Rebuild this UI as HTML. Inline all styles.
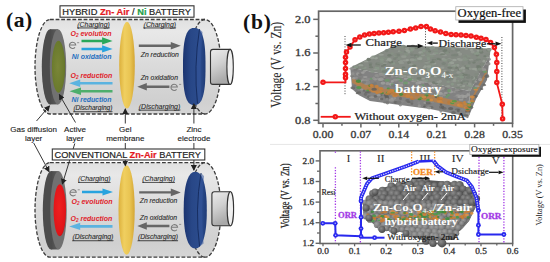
<!DOCTYPE html>
<html><head><meta charset="utf-8"><style>
html,body{margin:0;padding:0;background:#fff;width:550px;height:262px;overflow:hidden}
svg{display:block}
.s{font-family:"Liberation Sans",sans-serif}
.r{font-family:"Liberation Serif",serif}
</style></head><body>
<svg width="550" height="262" viewBox="0 0 550 262">
<defs>
  <linearGradient id="body" x1="0" y1="0" x2="0" y2="1">
    <stop offset="0" stop-color="#e0e0e0"/><stop offset="0.13" stop-color="#e8e8e8"/><stop offset="0.5" stop-color="#dadada"/><stop offset="0.85" stop-color="#d0d0d0"/><stop offset="1" stop-color="#d5d5d5"/>
  </linearGradient>
  <linearGradient id="term" x1="0" y1="0" x2="0.3" y2="1">
    <stop offset="0" stop-color="#ececec"/><stop offset="0.5" stop-color="#d0d0d0"/><stop offset="1" stop-color="#a8a8a8"/>
  </linearGradient>
  <linearGradient id="gel" x1="0" y1="0" x2="1" y2="0">
    <stop offset="0" stop-color="#dcb03c"/><stop offset="0.35" stop-color="#f0cf60"/><stop offset="0.7" stop-color="#e9c452"/><stop offset="1" stop-color="#d4a634"/>
  </linearGradient>
  <linearGradient id="zn" x1="0" y1="0" x2="1" y2="0">
    <stop offset="0" stop-color="#1b3470"/><stop offset="0.35" stop-color="#284787"/><stop offset="0.75" stop-color="#2c4d8e"/><stop offset="1" stop-color="#1f3b76"/>
  </linearGradient>
  <linearGradient id="gdl" x1="0" y1="0" x2="1" y2="0">
    <stop offset="0" stop-color="#4a4a4a"/><stop offset="1" stop-color="#5e5e5e"/>
  </linearGradient>
  <radialGradient id="olive" cx="0.45" cy="0.5" r="0.6">
    <stop offset="0" stop-color="#7a8638"/><stop offset="0.8" stop-color="#6a7a2c"/><stop offset="1" stop-color="#5a6a24"/>
  </radialGradient>
  <radialGradient id="redg" cx="0.45" cy="0.45" r="0.6">
    <stop offset="0" stop-color="#f02020"/><stop offset="0.85" stop-color="#e01418"/><stop offset="1" stop-color="#b81014"/>
  </radialGradient>
  <g id="shell">
    <path d="M50,19.5 L205,19.5 A16,47.25 0 0 1 205,114 L50,114 A15,47.25 0 0 1 50,19.5 Z" fill="url(#body)"/>
    <path d="M50,19.5 L205,19.5 A16,47.25 0 0 1 205,114 L50,114 A15,47.25 0 0 1 50,19.5 Z" fill="none" stroke="#3c3c3c" stroke-width="1.3" stroke-dasharray="3.8 1.8"/>
    <path d="M205,19.5 A16,47.25 0 0 0 205,114" fill="none" stroke="#3c3c3c" stroke-width="1.3" stroke-dasharray="3.8 1.8"/>
  </g>
  <marker id="ah" markerWidth="6" markerHeight="6" refX="5" refY="3" orient="auto" markerUnits="userSpaceOnUse">
    <path d="M0,0 L6,3 L0,6 Z" fill="#222"/>
  </marker>
</defs>
<text x="6" y="27" class="r" font-size="21.5" font-weight="bold" fill="#111" letter-spacing="0.6">(a)</text>
<use href="#shell"/>
<ellipse cx="50" cy="66.8" rx="8.2" ry="37.6" fill="#4c4c4c"/><rect x="50" y="29.2" width="8" height="75.2" fill="url(#gdl)"/><ellipse cx="58" cy="66.8" rx="8.2" ry="37.6" fill="#717171"/><ellipse cx="58.5" cy="66.8" rx="6.6" ry="26" fill="url(#olive)"/>
<ellipse cx="127" cy="65.2" rx="7.8" ry="43.4" fill="url(#gel)"/>
<path d="M205.50,66.50 L205.47,72.82 L205.37,77.03 L205.21,80.65 L204.99,83.89 L204.71,86.84 L204.36,89.54 L203.95,92.01 L203.48,94.25 L202.95,96.28 L202.36,98.10 L201.70,99.71 L200.98,101.11 L200.19,102.29 L199.33,103.27 L198.38,104.02 L197.33,104.57 L196.10,104.89 L194.25,105.00 L192.40,104.89 L191.17,104.57 L190.12,104.02 L189.17,103.27 L188.31,102.29 L187.52,101.11 L186.80,99.71 L186.14,98.10 L185.55,96.28 L185.02,94.25 L184.55,92.01 L184.14,89.54 L183.79,86.84 L183.51,83.89 L183.29,80.65 L183.13,77.03 L183.03,72.82 L183.00,66.50 L183.03,60.18 L183.13,55.97 L183.29,52.35 L183.51,49.11 L183.79,46.16 L184.14,43.46 L184.55,40.99 L185.02,38.75 L185.55,36.72 L186.14,34.90 L186.80,33.29 L187.52,31.89 L188.31,30.71 L189.17,29.73 L190.12,28.98 L191.17,28.43 L192.40,28.11 L194.25,28.00 L196.10,28.11 L197.33,28.43 L198.38,28.98 L199.33,29.73 L200.19,30.71 L200.98,31.89 L201.70,33.29 L202.36,34.90 L202.95,36.72 L203.48,38.75 L203.95,40.99 L204.36,43.46 L204.71,46.16 L204.99,49.11 L205.21,52.35 L205.37,55.97 L205.47,60.18 Z" fill="url(#zn)"/><path d="M199.5,29 Q193.5,67 197.5,103.5 L201.5,100.5 Q199.5,67 202.5,32 Z" fill="#35569a" opacity="0.55"/><path d="M199.5,29 Q193.5,67 197.5,103.5" fill="none" stroke="#142a5c" stroke-width="1" opacity="0.9"/>
<path d="M213,49.4 L230.1,49.4 L230.1,84.4 L213,84.4 Q210.5,84.4 210.5,81.9 L210.5,51.9 Q210.5,49.4 213,49.4 Z" fill="url(#term)" stroke="#333" stroke-width="1.1"/><ellipse cx="230.1" cy="66.9" rx="3.2" ry="17.5" fill="#f0f0f0" stroke="#333" stroke-width="1.1"/>
<g class="s" font-style="italic" font-size="7" fill="#2e2e2e" stroke="#2e2e2e" stroke-width="0.12"><text x="77.3" y="26.6" text-decoration="underline" textLength="32.5" lengthAdjust="spacingAndGlyphs">(Charging)</text><text x="143.6" y="26.6" text-decoration="underline" textLength="32.4" lengthAdjust="spacingAndGlyphs">(Charging)</text><text x="73.4" y="110.4" text-decoration="underline" textLength="39" lengthAdjust="spacingAndGlyphs">(Discharging)</text><text x="138.8" y="108.8" text-decoration="underline" textLength="41.5" lengthAdjust="spacingAndGlyphs">(Discharging)</text><text x="140.7" y="57" textLength="38.2" lengthAdjust="spacingAndGlyphs">Zn reduction</text><text x="140.7" y="80.2" textLength="37.3" lengthAdjust="spacingAndGlyphs">Zn oxidation</text></g>
<g class="s" font-style="italic" font-weight="bold" font-size="7"><text x="70.5" y="36.2" fill="#e0222a">O<tspan font-size="4.6" dy="1">2</tspan><tspan dy="-1"> evolution</tspan></text><text x="71.8" y="58.5" fill="#1f6fc0" textLength="39.7" lengthAdjust="spacingAndGlyphs">Ni oxidation</text><text x="70.5" y="77.9" fill="#e0222a">O<tspan font-size="4.6" dy="1">2</tspan><tspan dy="-1"> reduction</tspan></text><text x="71.5" y="102.2" fill="#1f6fc0" textLength="40" lengthAdjust="spacingAndGlyphs">Ni reduction</text></g>
<path d="M81.5,39.65 L102.1,39.65 L102.1,37.3 L112.6,40.9 L102.1,44.5 L102.1,42.15 L81.5,42.15 Z" fill="#29a85a"/>
<path d="M81.5,47.65 L102.1,47.65 L102.1,45.3 L112.6,48.9 L102.1,52.5 L102.1,50.15 L81.5,50.15 Z" fill="#28a3de"/>
<path d="M112.5,82 L80.2,82 L80.2,79.6 L69.2,83.3 L80.2,87 L80.2,84.6 L112.5,84.6 Z" fill="#5bb3e0"/>
<path d="M112.5,90 L81,90 L81,87.5 L69.5,91.3 L81,95.1 L81,92.6 L112.5,92.6 Z" fill="#4dae6c"/>
<path d="M138.8,44.5 L170.8,44.5 L170.8,41.9 L180.8,45.7 L170.8,49.5 L170.8,46.9 L138.8,46.9 Z" fill="#666"/>
<path d="M169.4,85.6 L146.8,85.6 L146.8,83 L137.3,86.8 L146.8,90.6 L146.8,88 L169.4,88 Z" fill="#666"/>
<path d="M69.3,44.9 L75.7,44.9 A3.2,3.1 0 1 0 74.996,47.332" fill="none" stroke="#7a7a7a" stroke-width="1.05"/><line x1="77.1" y1="42.7" x2="79.2" y2="42.7" stroke="#8a8a8a" stroke-width="0.9"/>
<path d="M170.9,86.9 L177.3,86.9 A3.2,3.1 0 1 0 176.596,89.332" fill="none" stroke="#7a7a7a" stroke-width="1.05"/><line x1="179.1" y1="84.4" x2="181.2" y2="84.4" stroke="#8a8a8a" stroke-width="0.9"/>
<rect x="60" y="5.8" width="134" height="11.4" fill="#fff" stroke="#333" stroke-width="1.1"/>
<text x="62.3" y="15.3" class="s" font-size="9" fill="#1e1e1e" stroke="#1e1e1e" stroke-width="0.2" textLength="128.7" lengthAdjust="spacingAndGlyphs">HYBRID <tspan fill="#e3191f" stroke="#e3191f" font-weight="bold">Zn- Air</tspan> / <tspan fill="#1ea04a" stroke="#1ea04a" font-weight="bold">Ni</tspan> BATTERY</text>
<use href="#shell" transform="translate(0,143.2)"/>
<ellipse cx="51" cy="210.3" rx="8.2" ry="39.2" fill="#4c4c4c"/><rect x="51" y="171.1" width="7.5" height="78.4" fill="url(#gdl)"/><ellipse cx="58.5" cy="210.3" rx="8.2" ry="39.2" fill="#717171"/><ellipse cx="59.8" cy="210.3" rx="6.2" ry="26" fill="url(#redg)"/>
<ellipse cx="126.6" cy="210" rx="8.1" ry="44.8" fill="url(#gel)"/>
<path d="M206.80,210.15 L206.76,214.74 L206.65,218.52 L206.46,221.99 L206.19,225.24 L205.85,228.28 L205.44,231.14 L204.96,233.80 L204.41,236.26 L203.79,238.52 L203.11,240.57 L202.37,242.39 L201.57,243.99 L200.71,245.36 L199.79,246.48 L198.82,247.36 L197.77,247.99 L196.63,248.37 L195.25,248.50 L193.87,248.37 L192.73,247.99 L191.68,247.36 L190.71,246.48 L189.79,245.36 L188.93,243.99 L188.13,242.39 L187.39,240.57 L186.71,238.52 L186.09,236.26 L185.54,233.80 L185.06,231.14 L184.65,228.28 L184.31,225.24 L184.04,221.99 L183.85,218.52 L183.74,214.74 L183.70,210.15 L183.74,205.56 L183.85,201.78 L184.04,198.31 L184.31,195.06 L184.65,192.02 L185.06,189.16 L185.54,186.50 L186.09,184.04 L186.71,181.78 L187.39,179.73 L188.13,177.91 L188.93,176.31 L189.79,174.94 L190.71,173.82 L191.68,172.94 L192.73,172.31 L193.87,171.93 L195.25,171.80 L196.63,171.93 L197.77,172.31 L198.82,172.94 L199.79,173.82 L200.71,174.94 L201.57,176.31 L202.37,177.91 L203.11,179.73 L203.79,181.78 L204.41,184.04 L204.96,186.50 L205.44,189.16 L205.85,192.02 L206.19,195.06 L206.46,198.31 L206.65,201.78 L206.76,205.56 Z" fill="url(#zn)"/><path d="M201,173 Q194.7,210 199.6,246.5 L203.6,243.5 Q200.7,210 204,176 Z" fill="#35569a" opacity="0.55"/><path d="M201,173 Q194.7,210 199.6,246.5" fill="none" stroke="#142a5c" stroke-width="1" opacity="0.9"/>
<path d="M214.4,191.7 L230.4,191.7 L230.4,225.8 L214.4,225.8 Q211.9,225.8 211.9,223.3 L211.9,194.2 Q211.9,191.7 214.4,191.7 Z" fill="url(#term)" stroke="#333" stroke-width="1.1"/><ellipse cx="230.4" cy="208.75" rx="3.2" ry="17.05" fill="#f0f0f0" stroke="#333" stroke-width="1.1"/>
<g class="s" font-style="italic" font-size="7" fill="#2e2e2e" stroke="#2e2e2e" stroke-width="0.12"><text x="78" y="181" text-decoration="underline" textLength="32.6" lengthAdjust="spacingAndGlyphs">(Charging)</text><text x="142.3" y="181" text-decoration="underline" textLength="32.7" lengthAdjust="spacingAndGlyphs">(Charging)</text><text x="72.4" y="239.4" text-decoration="underline" textLength="41" lengthAdjust="spacingAndGlyphs">(Discharging)</text><text x="137.9" y="239.4" text-decoration="underline" textLength="40.1" lengthAdjust="spacingAndGlyphs">(Discharging)</text><text x="139.8" y="203" textLength="37.6" lengthAdjust="spacingAndGlyphs">Zn reduction</text><text x="139.8" y="219.9" textLength="37.2" lengthAdjust="spacingAndGlyphs">Zn oxidation</text></g>
<g class="s" font-style="italic" font-weight="bold" font-size="7" fill="#e0222a"><text x="71.5" y="203.8">O<tspan font-size="4.6" dy="1">2</tspan><tspan dy="-1"> evolution</tspan></text><text x="70.5" y="220.6">O<tspan font-size="4.6" dy="1">2</tspan><tspan dy="-1"> reduction</tspan></text></g>
<path d="M82,190.75 L102.5,190.75 L102.5,188.4 L113,192 L102.5,195.6 L102.5,193.25 L82,193.25 Z" fill="#28a3de"/>
<path d="M112.5,225.1 L80.2,225.1 L80.2,222.7 L69.2,226.4 L80.2,230.1 L80.2,227.7 L112.5,227.7 Z" fill="#5bb3e0"/>
<path d="M139.2,191.2 L170.8,191.2 L170.8,188.6 L180.8,192.4 L170.8,196.2 L170.8,193.6 L139.2,193.6 Z" fill="#666"/>
<path d="M169.4,224.8 L146.8,224.8 L146.8,222.2 L137.3,226 L146.8,229.8 L146.8,227.2 L169.4,227.2 Z" fill="#666"/>
<path d="M69.9,192.3 L76.3,192.3 A3.2,3.1 0 1 0 75.596,194.732" fill="none" stroke="#7a7a7a" stroke-width="1.05"/><line x1="77.7" y1="189.8" x2="79.8" y2="189.8" stroke="#8a8a8a" stroke-width="0.9"/>
<path d="M171.2,227.3 L177.6,227.3 A3.2,3.1 0 1 0 176.896,229.732" fill="none" stroke="#7a7a7a" stroke-width="1.05"/><line x1="179.1" y1="224.4" x2="181.2" y2="224.4" stroke="#8a8a8a" stroke-width="0.9"/>
<g class="s" font-size="8" fill="#222" stroke="#222" stroke-width="0.12" text-anchor="middle"><text x="33.6" y="132">Gas diffusion</text><text x="33.6" y="140.5">layer</text><text x="75" y="132">Active</text><text x="75" y="140.5">layer</text><text x="125.3" y="132">Gel</text><text x="125.3" y="140.5">membrane</text><text x="194" y="132">Zinc</text><text x="194" y="140.5">electrode</text></g>
<g stroke="#222" stroke-width="0.9" fill="none"><line x1="36.5" y1="121" x2="49.4" y2="106" marker-end="url(#ah)"/><line x1="33.7" y1="143" x2="49" y2="171.5" marker-end="url(#ah)"/><line x1="75.5" y1="122.5" x2="59.4" y2="94.7" marker-end="url(#ah)"/><line x1="74.8" y1="143.5" x2="62.4" y2="183.9" marker-end="url(#ah)"/><line x1="125.3" y1="123.5" x2="125.3" y2="109" marker-end="url(#ah)"/><line x1="125.3" y1="143" x2="125.3" y2="165.5" marker-end="url(#ah)"/><line x1="193.9" y1="123.5" x2="193.9" y2="104" marker-end="url(#ah)"/><line x1="193.9" y1="143" x2="193.9" y2="170" marker-end="url(#ah)"/></g>
<rect x="52.3" y="149" width="152.5" height="11" fill="#fff" stroke="#333" stroke-width="1.1"/>
<text x="54.5" y="158" class="s" font-size="9" fill="#1e1e1e" stroke="#1e1e1e" stroke-width="0.2" textLength="146.5" lengthAdjust="spacingAndGlyphs">CONVENTIONAL <tspan fill="#e3191f" stroke="#e3191f" font-weight="bold">Zn-Air</tspan> BATTERY</text>
<defs>
<radialGradient id="sph" cx="0.38" cy="0.35" r="0.7">
  <stop offset="0" stop-color="#8c8c8c"/><stop offset="0.6" stop-color="#626262"/><stop offset="1" stop-color="#444"/>
</radialGradient>
<radialGradient id="sph2" cx="0.38" cy="0.35" r="0.7">
  <stop offset="0" stop-color="#a4a4a4"/><stop offset="0.6" stop-color="#808080"/><stop offset="1" stop-color="#5a5a5a"/>
</radialGradient>
</defs>
<text x="243" y="29" class="r" font-size="21.5" font-weight="bold" fill="#111" letter-spacing="0.8">(b)</text>
<rect x="318.6" y="11.2" width="194" height="112" fill="#fff" stroke="#666" stroke-width="1.7"/>
<line x1="313.2" y1="19.35" x2="318.6" y2="19.35" stroke="#666" stroke-width="1.5"/>
<text x="310.5" y="22.65" class="r" font-size="9.6" font-weight="normal" fill="#3a3a3a" text-anchor="end" textLength="15.5" lengthAdjust="spacingAndGlyphs" stroke="#3a3a3a" stroke-width="0.3">2.0</text>
<line x1="313.2" y1="53" x2="318.6" y2="53" stroke="#666" stroke-width="1.5"/>
<text x="310.5" y="56.3" class="r" font-size="9.6" font-weight="normal" fill="#3a3a3a" text-anchor="end" textLength="15.5" lengthAdjust="spacingAndGlyphs" stroke="#3a3a3a" stroke-width="0.3">1.6</text>
<line x1="313.2" y1="86.65" x2="318.6" y2="86.65" stroke="#666" stroke-width="1.5"/>
<text x="310.5" y="89.95" class="r" font-size="9.6" font-weight="normal" fill="#3a3a3a" text-anchor="end" textLength="15.5" lengthAdjust="spacingAndGlyphs" stroke="#3a3a3a" stroke-width="0.3">1.2</text>
<line x1="313.2" y1="120.3" x2="318.6" y2="120.3" stroke="#666" stroke-width="1.5"/>
<text x="310.5" y="123.6" class="r" font-size="9.6" font-weight="normal" fill="#3a3a3a" text-anchor="end" textLength="15.5" lengthAdjust="spacingAndGlyphs" stroke="#3a3a3a" stroke-width="0.3">0.8</text>
<line x1="315.4" y1="36.2" x2="318.6" y2="36.2" stroke="#666" stroke-width="1.5"/>
<line x1="315.4" y1="69.8" x2="318.6" y2="69.8" stroke="#666" stroke-width="1.5"/>
<line x1="315.4" y1="103.5" x2="318.6" y2="103.5" stroke="#666" stroke-width="1.5"/>
<line x1="323" y1="123.2" x2="323" y2="127.4" stroke="#666" stroke-width="1.5"/>
<text x="323" y="137.6" class="r" font-size="9.8" font-weight="normal" fill="#3a3a3a" text-anchor="middle" textLength="20.6" lengthAdjust="spacingAndGlyphs" stroke="#3a3a3a" stroke-width="0.3">0.00</text>
<line x1="341.95" y1="123.2" x2="341.95" y2="125.8" stroke="#666" stroke-width="1.5"/>
<line x1="360.9" y1="123.2" x2="360.9" y2="127.4" stroke="#666" stroke-width="1.5"/>
<text x="360.9" y="137.6" class="r" font-size="9.8" font-weight="normal" fill="#3a3a3a" text-anchor="middle" textLength="20.6" lengthAdjust="spacingAndGlyphs" stroke="#3a3a3a" stroke-width="0.3">0.07</text>
<line x1="379.85" y1="123.2" x2="379.85" y2="125.8" stroke="#666" stroke-width="1.5"/>
<line x1="398.8" y1="123.2" x2="398.8" y2="127.4" stroke="#666" stroke-width="1.5"/>
<text x="398.8" y="137.6" class="r" font-size="9.8" font-weight="normal" fill="#3a3a3a" text-anchor="middle" textLength="20.6" lengthAdjust="spacingAndGlyphs" stroke="#3a3a3a" stroke-width="0.3">0.14</text>
<line x1="417.75" y1="123.2" x2="417.75" y2="125.8" stroke="#666" stroke-width="1.5"/>
<line x1="436.7" y1="123.2" x2="436.7" y2="127.4" stroke="#666" stroke-width="1.5"/>
<text x="436.7" y="137.6" class="r" font-size="9.8" font-weight="normal" fill="#3a3a3a" text-anchor="middle" textLength="20.6" lengthAdjust="spacingAndGlyphs" stroke="#3a3a3a" stroke-width="0.3">0.21</text>
<line x1="455.65" y1="123.2" x2="455.65" y2="125.8" stroke="#666" stroke-width="1.5"/>
<line x1="474.6" y1="123.2" x2="474.6" y2="127.4" stroke="#666" stroke-width="1.5"/>
<text x="474.6" y="137.6" class="r" font-size="9.8" font-weight="normal" fill="#3a3a3a" text-anchor="middle" textLength="20.6" lengthAdjust="spacingAndGlyphs" stroke="#3a3a3a" stroke-width="0.3">0.28</text>
<line x1="493.55" y1="123.2" x2="493.55" y2="125.8" stroke="#666" stroke-width="1.5"/>
<line x1="512.5" y1="123.2" x2="512.5" y2="127.4" stroke="#666" stroke-width="1.5"/>
<text x="512.5" y="137.6" class="r" font-size="9.8" font-weight="normal" fill="#3a3a3a" text-anchor="middle" textLength="20.6" lengthAdjust="spacingAndGlyphs" stroke="#3a3a3a" stroke-width="0.3">0.35</text>
<text transform="translate(281.2,64.8) scale(1.25,1) rotate(-90)" class="r" font-size="11.6" fill="#2a2a2a" stroke="#2a2a2a" stroke-width="0.1" text-anchor="middle">Voltage (V vs. Zn)</text>
<polygon points="350.3,67.6 395,45.3 490.5,48.5 490,55 470,91" fill="#868b84"/>
<polygon points="350.3,67.6 470,91 468,118.2 460,115 430,109 400,105 370,101 359,95.3 352,89" fill="#828282"/>
<polygon points="470,91 490,55 487,80 476,99 468,118.2" fill="#7c7c7c"/>
<polygon points="352,77.83 361.67,82.45 371.33,85.56 381,87.17 390.67,88.78 400.33,90.38 410,91.99 419.67,93.6 429.33,95.2 439,97.09 448.67,99 458.33,100.91 468,103.58 468,109.92 458.33,106.88 448.67,104.96 439,103.04 429.33,101.15 419.67,99.68 410,98.21 400.33,96.75 390.67,95.28 381,93.81 371.33,92.34 361.67,88.62 352,82.68" fill="#c08040" opacity="0.7"/>
<polygon points="470,101.53 471.42,98.58 472.83,95.63 474.25,92.68 475.67,89.73 477.08,87.12 478.5,84.62 479.92,82.12 481.33,79.62 482.75,77.12 484.17,74.62 485.58,72.11 487,69.61 487,74.12 485.58,76.6 484.17,79.08 482.75,81.55 481.33,84.03 479.92,86.51 478.5,88.99 477.08,91.47 475.67,94.1 474.25,97.25 472.83,100.39 471.42,103.53 470,106.68" fill="#c08040" opacity="0.7"/>
<g><ellipse cx="395.28" cy="55.77" rx="1.47" ry="1.47" fill="#9aa198" opacity="0.85"/><ellipse cx="361.74" cy="89.46" rx="1.62" ry="0.98" fill="#9a9a98" opacity="0.85"/><ellipse cx="409.05" cy="62.77" rx="1.99" ry="1.48" fill="#737d71" opacity="0.85"/><ellipse cx="366.08" cy="61.41" rx="2.22" ry="0.94" fill="#9aa198" opacity="0.85"/><ellipse cx="433.49" cy="47.87" rx="1.47" ry="1.5" fill="#949a92" opacity="0.85"/><ellipse cx="390.28" cy="55.25" rx="2.2" ry="1.29" fill="#7a8279" opacity="0.85"/><ellipse cx="447.57" cy="52.04" rx="2.29" ry="1.16" fill="#737d71" opacity="0.85"/><ellipse cx="427.97" cy="48.9" rx="2.27" ry="1.25" fill="#7a8279" opacity="0.85"/><ellipse cx="425.63" cy="104.62" rx="2.18" ry="1.31" fill="#777775" opacity="0.85"/><ellipse cx="450.05" cy="63.04" rx="1.82" ry="1.25" fill="#737d71" opacity="0.85"/><ellipse cx="398.15" cy="79.01" rx="2.77" ry="1.01" fill="#6f9a6c" opacity="0.85"/><ellipse cx="409.05" cy="103.06" rx="2.7" ry="1.28" fill="#8a8a88" opacity="0.85"/><ellipse cx="488.45" cy="50.05" rx="2.2" ry="1.51" fill="#737d71" opacity="0.85"/><ellipse cx="393.81" cy="98.23" rx="2.05" ry="1.62" fill="#9a9a98" opacity="0.85"/><ellipse cx="387.41" cy="98.37" rx="1.39" ry="1.53" fill="#6c6c6a" opacity="0.85"/><ellipse cx="468" cy="66.2" rx="2.64" ry="1.14" fill="#8a9888" opacity="0.85"/><ellipse cx="485.33" cy="71.73" rx="1.48" ry="0.95" fill="#6f9a6c" opacity="0.85"/><ellipse cx="460.16" cy="54.09" rx="1.96" ry="1.54" fill="#949a92" opacity="0.85"/><ellipse cx="420.49" cy="56.98" rx="2.17" ry="1.52" fill="#8a9888" opacity="0.85"/><ellipse cx="467.61" cy="111.39" rx="2.36" ry="1.79" fill="#5f5f5d" opacity="0.85"/><ellipse cx="447.68" cy="73.67" rx="1.61" ry="1.02" fill="#949a92" opacity="0.85"/><ellipse cx="381.87" cy="62.2" rx="2.56" ry="1.03" fill="#8a9888" opacity="0.85"/><ellipse cx="389.16" cy="55.36" rx="1.92" ry="1.3" fill="#737d71" opacity="0.85"/><ellipse cx="423.26" cy="92.17" rx="2.41" ry="1.31" fill="#939391" opacity="0.85"/><ellipse cx="447.36" cy="87.62" rx="1.9" ry="0.99" fill="#7a7a78" opacity="0.85"/><ellipse cx="440.61" cy="48.86" rx="2.78" ry="1.21" fill="#7a8279" opacity="0.85"/><ellipse cx="364.05" cy="90.86" rx="1.3" ry="1.04" fill="#6c6c6a" opacity="0.85"/><ellipse cx="362.81" cy="72.36" rx="1.41" ry="1.09" fill="#8a8a88" opacity="0.85"/><ellipse cx="402.93" cy="93.48" rx="1.85" ry="1.01" fill="#9a9a98" opacity="0.85"/><ellipse cx="416.03" cy="81.74" rx="1.52" ry="1.57" fill="#8a8a88" opacity="0.85"/><ellipse cx="456.09" cy="81.33" rx="1.63" ry="0.92" fill="#9aa198" opacity="0.85"/><ellipse cx="369.4" cy="86.37" rx="1.75" ry="1.48" fill="#c9823c" opacity="0.85"/><ellipse cx="399.93" cy="61.38" rx="2.49" ry="1.13" fill="#737d71" opacity="0.85"/><ellipse cx="465.69" cy="107.83" rx="1.6" ry="1.34" fill="#d48c42" opacity="0.85"/><ellipse cx="463.36" cy="80.83" rx="2.37" ry="1.57" fill="#949a92" opacity="0.85"/><ellipse cx="401.24" cy="61.2" rx="2.06" ry="1.14" fill="#949a92" opacity="0.85"/><ellipse cx="480.74" cy="70.83" rx="1.52" ry="1.36" fill="#9aa198" opacity="0.85"/><ellipse cx="457.52" cy="81.29" rx="2.01" ry="1.35" fill="#949a92" opacity="0.85"/><ellipse cx="453.39" cy="80.13" rx="2.73" ry="1.41" fill="#9aa198" opacity="0.85"/><ellipse cx="465.75" cy="55.4" rx="2.23" ry="1.23" fill="#869084" opacity="0.85"/><ellipse cx="484.87" cy="56.16" rx="1.58" ry="0.91" fill="#737d71" opacity="0.85"/><ellipse cx="468.62" cy="60.46" rx="1.7" ry="1.25" fill="#828a80" opacity="0.85"/><ellipse cx="459.5" cy="69.43" rx="1.99" ry="0.99" fill="#737d71" opacity="0.85"/><ellipse cx="480.86" cy="71.6" rx="2.29" ry="1.63" fill="#7a7a78" opacity="0.85"/><ellipse cx="476.21" cy="54.2" rx="2.13" ry="0.91" fill="#949a92" opacity="0.85"/><ellipse cx="412.26" cy="58.28" rx="2.49" ry="1" fill="#7a8279" opacity="0.85"/><ellipse cx="368.67" cy="92.29" rx="2.13" ry="1.19" fill="#6c6c6a" opacity="0.85"/><ellipse cx="423.68" cy="87.32" rx="2.62" ry="0.95" fill="#8a8a88" opacity="0.85"/><ellipse cx="362.27" cy="79.27" rx="2.44" ry="1.72" fill="#8a8a88" opacity="0.85"/><ellipse cx="412.71" cy="91.78" rx="2.21" ry="1.08" fill="#6f9a6c" opacity="0.85"/><ellipse cx="388.47" cy="83.64" rx="2.06" ry="1.12" fill="#7a7a78" opacity="0.85"/><ellipse cx="478.34" cy="59.8" rx="1.59" ry="0.99" fill="#8a9888" opacity="0.85"/><ellipse cx="412.55" cy="49.66" rx="2" ry="1.05" fill="#949a92" opacity="0.85"/><ellipse cx="392.21" cy="53.54" rx="1.62" ry="1.4" fill="#869084" opacity="0.85"/><ellipse cx="444.4" cy="55.15" rx="2.75" ry="1.05" fill="#949a92" opacity="0.85"/><ellipse cx="487.07" cy="75.06" rx="1.54" ry="1.5" fill="#777775" opacity="0.85"/><ellipse cx="380.66" cy="99.09" rx="1.91" ry="1.28" fill="#9a9a98" opacity="0.85"/><ellipse cx="400.07" cy="51.19" rx="1.43" ry="1.29" fill="#828a80" opacity="0.85"/><ellipse cx="396.4" cy="92.67" rx="1.47" ry="1.73" fill="#c9823c" opacity="0.85"/><ellipse cx="360.27" cy="65.21" rx="1.65" ry="1.43" fill="#869084" opacity="0.85"/><ellipse cx="467.69" cy="110.27" rx="1.91" ry="1.38" fill="#bb7a3a" opacity="0.85"/><ellipse cx="423.16" cy="82.58" rx="1.43" ry="0.95" fill="#a0a09e" opacity="0.85"/><ellipse cx="448.48" cy="77.17" rx="1.78" ry="0.91" fill="#7a8279" opacity="0.85"/><ellipse cx="360.93" cy="64.32" rx="2.6" ry="0.95" fill="#737d71" opacity="0.85"/><ellipse cx="473.97" cy="79.39" rx="2.79" ry="1.19" fill="#828a80" opacity="0.85"/><ellipse cx="386.24" cy="58.13" rx="2.28" ry="1.27" fill="#828a80" opacity="0.85"/><ellipse cx="378.06" cy="78.76" rx="1.57" ry="1.21" fill="#939391" opacity="0.85"/><ellipse cx="428.45" cy="58.78" rx="1.74" ry="1.21" fill="#8a9888" opacity="0.85"/><ellipse cx="444.11" cy="94.71" rx="2.04" ry="1.65" fill="#939391" opacity="0.85"/><ellipse cx="405.39" cy="83.52" rx="1.62" ry="1.11" fill="#939391" opacity="0.85"/><ellipse cx="454.41" cy="54.9" rx="2.77" ry="1.49" fill="#828a80" opacity="0.85"/><ellipse cx="476.46" cy="77.6" rx="1.52" ry="1.49" fill="#7a8279" opacity="0.85"/><ellipse cx="475.1" cy="96.3" rx="2.2" ry="1.52" fill="#5f5f5d" opacity="0.85"/><ellipse cx="401.16" cy="69.66" rx="1.85" ry="0.92" fill="#737d71" opacity="0.85"/><ellipse cx="476.83" cy="60.99" rx="1.4" ry="1.17" fill="#949a92" opacity="0.85"/><ellipse cx="417.3" cy="83.22" rx="1.67" ry="1.6" fill="#9c9c9a" opacity="0.85"/><ellipse cx="369" cy="89.77" rx="1.76" ry="1.11" fill="#bb7a3a" opacity="0.85"/><ellipse cx="433.5" cy="85.28" rx="2.29" ry="1.54" fill="#9c9c9a" opacity="0.85"/><ellipse cx="476.35" cy="74.38" rx="2.41" ry="1.25" fill="#828a80" opacity="0.85"/><ellipse cx="389.49" cy="92.26" rx="2.55" ry="1.7" fill="#c9823c" opacity="0.85"/><ellipse cx="439.59" cy="101.24" rx="2.66" ry="1.58" fill="#d48c42" opacity="0.85"/><ellipse cx="431" cy="107.41" rx="2.54" ry="1.43" fill="#6c6c6a" opacity="0.85"/><ellipse cx="449.23" cy="61.94" rx="1.46" ry="1.35" fill="#7a8279" opacity="0.85"/><ellipse cx="413.9" cy="47.96" rx="2.28" ry="1.38" fill="#7a8279" opacity="0.85"/><ellipse cx="464.46" cy="102.36" rx="1.44" ry="1.37" fill="#c9823c" opacity="0.85"/><ellipse cx="456.88" cy="80.96" rx="1.5" ry="1.09" fill="#869084" opacity="0.85"/><ellipse cx="454.48" cy="60.01" rx="2.31" ry="1.22" fill="#9aa198" opacity="0.85"/><ellipse cx="471.45" cy="49.99" rx="1.8" ry="0.93" fill="#9aa198" opacity="0.85"/><ellipse cx="440.39" cy="59.47" rx="1.61" ry="1.08" fill="#737d71" opacity="0.85"/><ellipse cx="456.51" cy="67.74" rx="1.59" ry="1.24" fill="#737d71" opacity="0.85"/><ellipse cx="419.48" cy="99.29" rx="2" ry="1.01" fill="#3f8c3e" opacity="0.85"/><ellipse cx="478.47" cy="59.54" rx="2.71" ry="0.91" fill="#7a8279" opacity="0.85"/><ellipse cx="387.22" cy="60.37" rx="1.5" ry="0.96" fill="#949a92" opacity="0.85"/><ellipse cx="457.13" cy="64.42" rx="1.59" ry="1.47" fill="#828a80" opacity="0.85"/><ellipse cx="450.69" cy="62.05" rx="1.95" ry="1.01" fill="#8a9888" opacity="0.85"/><ellipse cx="407.19" cy="100.72" rx="1.82" ry="1.18" fill="#777775" opacity="0.85"/><ellipse cx="457.61" cy="109.45" rx="2.71" ry="1.08" fill="#6c6c6a" opacity="0.85"/><ellipse cx="458.33" cy="110.63" rx="1.45" ry="1.65" fill="#5f5f5d" opacity="0.85"/><ellipse cx="384.4" cy="64.73" rx="1.84" ry="1.44" fill="#737d71" opacity="0.85"/><ellipse cx="462.63" cy="77.36" rx="2.54" ry="1.34" fill="#7a8279" opacity="0.85"/><ellipse cx="428.19" cy="100.13" rx="1.92" ry="1.45" fill="#4d9a4a" opacity="0.85"/><ellipse cx="428.32" cy="57.32" rx="1.88" ry="1.11" fill="#8a9888" opacity="0.85"/><ellipse cx="385.98" cy="95.17" rx="2.02" ry="1.5" fill="#5f5f5d" opacity="0.85"/><ellipse cx="365.48" cy="94.17" rx="1.61" ry="1.72" fill="#6c6c6a" opacity="0.85"/><ellipse cx="420.57" cy="61.16" rx="2.8" ry="1.21" fill="#828a80" opacity="0.85"/><ellipse cx="368.38" cy="59.01" rx="1.64" ry="1.29" fill="#7a8279" opacity="0.85"/><ellipse cx="394.62" cy="72.73" rx="2.2" ry="1.52" fill="#869084" opacity="0.85"/><ellipse cx="457.45" cy="76.2" rx="2.44" ry="1.05" fill="#8a9888" opacity="0.85"/><ellipse cx="387.46" cy="102.66" rx="1.72" ry="1.77" fill="#777775" opacity="0.85"/><ellipse cx="366.38" cy="83.26" rx="2.49" ry="1.66" fill="#939391" opacity="0.85"/><ellipse cx="404.15" cy="94.37" rx="2.57" ry="1.69" fill="#bb7a3a" opacity="0.85"/><ellipse cx="417.1" cy="89.8" rx="1.41" ry="1.74" fill="#8a8a88" opacity="0.85"/><ellipse cx="483.51" cy="85.17" rx="2.76" ry="1.12" fill="#777775" opacity="0.85"/><ellipse cx="424.27" cy="97.2" rx="2.35" ry="1.66" fill="#666664" opacity="0.85"/><ellipse cx="478.65" cy="50.63" rx="1.46" ry="1.45" fill="#869084" opacity="0.85"/><ellipse cx="442.24" cy="67.7" rx="2.28" ry="1.27" fill="#949a92" opacity="0.85"/><ellipse cx="411.86" cy="103.58" rx="1.41" ry="1.37" fill="#6c6c6a" opacity="0.85"/><ellipse cx="433.1" cy="74.27" rx="2.51" ry="0.9" fill="#949a92" opacity="0.85"/><ellipse cx="388.68" cy="68.68" rx="2.64" ry="1.23" fill="#869084" opacity="0.85"/><ellipse cx="382.28" cy="63.27" rx="2.39" ry="1.12" fill="#8a9888" opacity="0.85"/><ellipse cx="446.47" cy="76.76" rx="1.72" ry="1.2" fill="#828a80" opacity="0.85"/><ellipse cx="402.05" cy="82.45" rx="1.81" ry="1.28" fill="#939391" opacity="0.85"/><ellipse cx="447.65" cy="59.45" rx="1.81" ry="1.49" fill="#869084" opacity="0.85"/><ellipse cx="357.85" cy="82.66" rx="2.53" ry="1.11" fill="#c9823c" opacity="0.85"/><ellipse cx="420.38" cy="58.61" rx="2.08" ry="1.54" fill="#949a92" opacity="0.85"/><ellipse cx="356.24" cy="90.39" rx="1.38" ry="0.92" fill="#777775" opacity="0.85"/><ellipse cx="435.03" cy="76.4" rx="1.48" ry="1.18" fill="#9aa198" opacity="0.85"/><ellipse cx="484.01" cy="69.68" rx="2.28" ry="1.37" fill="#9c9c9a" opacity="0.85"/><ellipse cx="416.27" cy="68.32" rx="1.93" ry="1.16" fill="#9aa198" opacity="0.85"/><ellipse cx="396.43" cy="57.2" rx="1.51" ry="0.96" fill="#7a8279" opacity="0.85"/><ellipse cx="429.92" cy="103.19" rx="1.83" ry="1.64" fill="#777775" opacity="0.85"/><ellipse cx="468.01" cy="77.73" rx="2.39" ry="1.04" fill="#7a8279" opacity="0.85"/><ellipse cx="427.06" cy="78.82" rx="1.91" ry="1.53" fill="#828a80" opacity="0.85"/><ellipse cx="352.42" cy="76.04" rx="2.45" ry="0.94" fill="#939391" opacity="0.85"/><ellipse cx="482.33" cy="64.05" rx="1.49" ry="1.32" fill="#9aa198" opacity="0.85"/><ellipse cx="400.99" cy="70.13" rx="1.46" ry="1.42" fill="#737d71" opacity="0.85"/><ellipse cx="391.42" cy="100.28" rx="2.67" ry="1.47" fill="#9a9a98" opacity="0.85"/><ellipse cx="382.14" cy="81.06" rx="2.73" ry="1.25" fill="#7a7a78" opacity="0.85"/><ellipse cx="384.65" cy="77.54" rx="1.5" ry="1.35" fill="#7a7a78" opacity="0.85"/><ellipse cx="392.28" cy="97.98" rx="2.21" ry="1.2" fill="#8a8a88" opacity="0.85"/><ellipse cx="394.65" cy="72.22" rx="2.23" ry="1.26" fill="#869084" opacity="0.85"/><ellipse cx="405.19" cy="56.48" rx="1.49" ry="0.92" fill="#8a9888" opacity="0.85"/><ellipse cx="428.68" cy="69.41" rx="2.64" ry="1.59" fill="#8a9888" opacity="0.85"/><ellipse cx="386.67" cy="50.56" rx="1.99" ry="1.59" fill="#7a8279" opacity="0.85"/><ellipse cx="367.41" cy="79.95" rx="1.65" ry="1.38" fill="#939391" opacity="0.85"/><ellipse cx="460.99" cy="103.25" rx="1.74" ry="1.41" fill="#bb7a3a" opacity="0.85"/><ellipse cx="402.45" cy="101.57" rx="1.96" ry="1.07" fill="#8a8a88" opacity="0.85"/><ellipse cx="382.38" cy="65.95" rx="1.66" ry="0.95" fill="#737d71" opacity="0.85"/><ellipse cx="384.74" cy="63.18" rx="1.72" ry="1.47" fill="#737d71" opacity="0.85"/><ellipse cx="362.94" cy="81.03" rx="2.56" ry="1.72" fill="#9c9c9a" opacity="0.85"/><ellipse cx="353.89" cy="66.91" rx="1.47" ry="1.32" fill="#7a8279" opacity="0.85"/><ellipse cx="468.88" cy="59.14" rx="1.92" ry="1.51" fill="#7a8279" opacity="0.85"/><ellipse cx="413.57" cy="64.28" rx="2.33" ry="0.9" fill="#869084" opacity="0.85"/><ellipse cx="441.07" cy="99.36" rx="1.85" ry="1.03" fill="#c9823c" opacity="0.85"/><ellipse cx="377.78" cy="63.88" rx="2.43" ry="1.54" fill="#737d71" opacity="0.85"/><ellipse cx="466.95" cy="107.87" rx="1.58" ry="1.18" fill="#bb7a3a" opacity="0.85"/><ellipse cx="428.01" cy="48.94" rx="2.51" ry="1.36" fill="#7a8279" opacity="0.85"/><ellipse cx="370.56" cy="85.65" rx="2.34" ry="1.27" fill="#3f8c3e" opacity="0.85"/><ellipse cx="389.36" cy="67.99" rx="1.84" ry="1.3" fill="#7a8279" opacity="0.85"/><ellipse cx="400.15" cy="76.48" rx="2.47" ry="1.46" fill="#869084" opacity="0.85"/><ellipse cx="442.09" cy="74.48" rx="1.69" ry="0.9" fill="#8a9888" opacity="0.85"/><ellipse cx="479.64" cy="77.05" rx="1.91" ry="1.69" fill="#8a8a88" opacity="0.85"/><ellipse cx="415.29" cy="56.68" rx="1.47" ry="1" fill="#7a8279" opacity="0.85"/><ellipse cx="465.74" cy="74.94" rx="2.27" ry="1.16" fill="#737d71" opacity="0.85"/><ellipse cx="421.65" cy="55.38" rx="1.63" ry="1.02" fill="#828a80" opacity="0.85"/><ellipse cx="357.8" cy="73.93" rx="1.75" ry="1.65" fill="#9c9c9a" opacity="0.85"/><ellipse cx="393.92" cy="91.4" rx="2.66" ry="1.46" fill="#c9823c" opacity="0.85"/><ellipse cx="468.39" cy="56.5" rx="2.6" ry="1.33" fill="#869084" opacity="0.85"/><ellipse cx="437.75" cy="59.3" rx="1.66" ry="1.05" fill="#8a9888" opacity="0.85"/><ellipse cx="406.36" cy="84.4" rx="1.84" ry="1.03" fill="#7a7a78" opacity="0.85"/><ellipse cx="471" cy="96.44" rx="2.56" ry="1.01" fill="#939391" opacity="0.85"/><ellipse cx="435.53" cy="86.9" rx="2.47" ry="1.48" fill="#939391" opacity="0.85"/><ellipse cx="393" cy="63.44" rx="2.32" ry="1.21" fill="#8a9888" opacity="0.85"/><ellipse cx="438.36" cy="82.18" rx="2.03" ry="1.33" fill="#949a92" opacity="0.85"/><ellipse cx="467.57" cy="109.25" rx="1.46" ry="1.02" fill="#3f8c3e" opacity="0.85"/><ellipse cx="410.87" cy="51.15" rx="2.11" ry="1.36" fill="#8a9888" opacity="0.85"/><ellipse cx="482.63" cy="68.47" rx="2.07" ry="0.95" fill="#939391" opacity="0.85"/><ellipse cx="421.57" cy="73.47" rx="1.59" ry="1.5" fill="#869084" opacity="0.85"/><ellipse cx="466.99" cy="59.11" rx="1.8" ry="1.47" fill="#8a9888" opacity="0.85"/><ellipse cx="464.07" cy="97.52" rx="2.7" ry="0.96" fill="#939391" opacity="0.85"/><ellipse cx="399.23" cy="102.98" rx="1.79" ry="1.45" fill="#8a8a88" opacity="0.85"/><ellipse cx="480.14" cy="79.6" rx="2.05" ry="1.73" fill="#a0a09e" opacity="0.85"/><ellipse cx="378.42" cy="64.5" rx="1.73" ry="1.16" fill="#737d71" opacity="0.85"/><ellipse cx="377.05" cy="75.47" rx="2.7" ry="1.51" fill="#939391" opacity="0.85"/><ellipse cx="478.73" cy="57.16" rx="1.77" ry="1.44" fill="#869084" opacity="0.85"/><ellipse cx="424.13" cy="97.72" rx="2.79" ry="1.47" fill="#bb7a3a" opacity="0.85"/><ellipse cx="432.29" cy="72.1" rx="1.51" ry="1.06" fill="#869084" opacity="0.85"/><ellipse cx="391.27" cy="84.26" rx="2.26" ry="1.79" fill="#a0a09e" opacity="0.85"/><ellipse cx="433.54" cy="95.77" rx="2.42" ry="1.1" fill="#c9823c" opacity="0.85"/><ellipse cx="390.48" cy="92.8" rx="2.64" ry="1.02" fill="#bb7a3a" opacity="0.85"/><ellipse cx="381.18" cy="94.94" rx="1.38" ry="1.41" fill="#6c6c6a" opacity="0.85"/><ellipse cx="392.35" cy="84.8" rx="1.64" ry="1.43" fill="#6f9a6c" opacity="0.85"/><ellipse cx="434.01" cy="59.93" rx="2.56" ry="1.01" fill="#737d71" opacity="0.85"/><ellipse cx="451.29" cy="79.17" rx="2.29" ry="1.51" fill="#7a8279" opacity="0.85"/><ellipse cx="462.19" cy="75.35" rx="2.75" ry="0.94" fill="#828a80" opacity="0.85"/><ellipse cx="467.85" cy="113.63" rx="2.27" ry="1.3" fill="#9a9a98" opacity="0.85"/><ellipse cx="354.42" cy="85.46" rx="1.58" ry="1.04" fill="#777775" opacity="0.85"/><ellipse cx="481.11" cy="52.18" rx="2.17" ry="1.56" fill="#737d71" opacity="0.85"/><ellipse cx="368.77" cy="59.56" rx="2.3" ry="1.35" fill="#737d71" opacity="0.85"/><ellipse cx="408.63" cy="91.83" rx="1.75" ry="0.94" fill="#c9823c" opacity="0.85"/><ellipse cx="471.29" cy="102.12" rx="2.28" ry="1.06" fill="#4d9a4a" opacity="0.85"/><ellipse cx="442.03" cy="53.61" rx="2.7" ry="1.56" fill="#9aa198" opacity="0.85"/><ellipse cx="440.84" cy="96.98" rx="2.48" ry="1.37" fill="#939391" opacity="0.85"/><ellipse cx="386.73" cy="94.08" rx="1.43" ry="1.36" fill="#8a8a88" opacity="0.85"/><ellipse cx="470.89" cy="59.82" rx="2.44" ry="1.13" fill="#949a92" opacity="0.85"/><ellipse cx="476.5" cy="69.63" rx="1.93" ry="1.5" fill="#949a92" opacity="0.85"/><ellipse cx="470.86" cy="85.84" rx="2.58" ry="1.39" fill="#8a9888" opacity="0.85"/><ellipse cx="473.2" cy="78.1" rx="1.73" ry="1.52" fill="#9aa198" opacity="0.85"/><ellipse cx="463.22" cy="74.54" rx="1.51" ry="1.54" fill="#737d71" opacity="0.85"/><ellipse cx="398.35" cy="55.06" rx="1.44" ry="1" fill="#7a8279" opacity="0.85"/><ellipse cx="441.96" cy="47.33" rx="2.43" ry="0.95" fill="#7a8279" opacity="0.85"/><ellipse cx="434.21" cy="72.35" rx="2.74" ry="1.27" fill="#869084" opacity="0.85"/><ellipse cx="458.34" cy="99.48" rx="1.46" ry="1.09" fill="#7a7a78" opacity="0.85"/><ellipse cx="471.77" cy="107.34" rx="1.43" ry="1.58" fill="#666664" opacity="0.85"/><ellipse cx="440.31" cy="81.21" rx="1.54" ry="1.43" fill="#949a92" opacity="0.85"/><ellipse cx="377.93" cy="68.89" rx="1.77" ry="1.15" fill="#8a9888" opacity="0.85"/><ellipse cx="460.31" cy="90.96" rx="2.58" ry="1.46" fill="#7a7a78" opacity="0.85"/><ellipse cx="352.52" cy="76.21" rx="2.08" ry="0.99" fill="#7a7a78" opacity="0.85"/><ellipse cx="416.47" cy="47.75" rx="1.7" ry="1.5" fill="#737d71" opacity="0.85"/><ellipse cx="419.66" cy="82.34" rx="2.75" ry="1.43" fill="#9c9c9a" opacity="0.85"/><ellipse cx="432.39" cy="56.39" rx="1.7" ry="1.39" fill="#869084" opacity="0.85"/><ellipse cx="420.75" cy="52.57" rx="2.47" ry="1.24" fill="#9aa198" opacity="0.85"/><ellipse cx="363.27" cy="69.48" rx="1.96" ry="1.18" fill="#7a8279" opacity="0.85"/><ellipse cx="478" cy="50.72" rx="1.44" ry="1.04" fill="#9aa198" opacity="0.85"/><ellipse cx="421.17" cy="73.59" rx="1.73" ry="1.22" fill="#9aa198" opacity="0.85"/><ellipse cx="425.61" cy="102.85" rx="2.27" ry="1.21" fill="#9a9a98" opacity="0.85"/><ellipse cx="395.69" cy="56.12" rx="2.03" ry="1.29" fill="#869084" opacity="0.85"/><ellipse cx="395.21" cy="80.13" rx="2.46" ry="1.42" fill="#939391" opacity="0.85"/><ellipse cx="366.4" cy="80.04" rx="1.66" ry="1.07" fill="#939391" opacity="0.85"/><ellipse cx="392.02" cy="98.85" rx="1.53" ry="1.04" fill="#9a9a98" opacity="0.85"/><ellipse cx="384.15" cy="69.47" rx="1.89" ry="1.07" fill="#737d71" opacity="0.85"/><ellipse cx="487.55" cy="64.18" rx="2.79" ry="1.05" fill="#939391" opacity="0.85"/><ellipse cx="444.05" cy="59.24" rx="2.78" ry="1.46" fill="#949a92" opacity="0.85"/><ellipse cx="455.06" cy="77.92" rx="1.55" ry="1.54" fill="#949a92" opacity="0.85"/><ellipse cx="472.73" cy="78.05" rx="2.1" ry="1.34" fill="#949a92" opacity="0.85"/><ellipse cx="415.64" cy="55.06" rx="2.43" ry="0.9" fill="#737d71" opacity="0.85"/><ellipse cx="450.37" cy="89.82" rx="1.93" ry="1.11" fill="#939391" opacity="0.85"/><ellipse cx="453.44" cy="112.65" rx="2.35" ry="1.67" fill="#666664" opacity="0.85"/><ellipse cx="447.22" cy="94.04" rx="1.95" ry="1.13" fill="#7a7a78" opacity="0.85"/><ellipse cx="383.39" cy="75.21" rx="2.24" ry="1.13" fill="#939391" opacity="0.85"/><ellipse cx="409.84" cy="79.51" rx="2.59" ry="1.37" fill="#6f9a6c" opacity="0.85"/><ellipse cx="478.6" cy="69.59" rx="1.94" ry="1.24" fill="#7a8279" opacity="0.85"/><ellipse cx="427.33" cy="56.55" rx="2.73" ry="1.04" fill="#869084" opacity="0.85"/><ellipse cx="414.69" cy="59.99" rx="2.12" ry="1.35" fill="#8a9888" opacity="0.85"/><ellipse cx="469.03" cy="84.69" rx="2.44" ry="1.22" fill="#8a9888" opacity="0.85"/><ellipse cx="454.45" cy="91.89" rx="1.38" ry="1.15" fill="#939391" opacity="0.85"/><ellipse cx="409.11" cy="76.8" rx="2.34" ry="1.31" fill="#9aa198" opacity="0.85"/><ellipse cx="363.95" cy="67.67" rx="2.72" ry="1.27" fill="#8a9888" opacity="0.85"/><ellipse cx="405.23" cy="60.54" rx="2.7" ry="0.95" fill="#949a92" opacity="0.85"/><ellipse cx="464.57" cy="59.07" rx="2.19" ry="1.06" fill="#9aa198" opacity="0.85"/><ellipse cx="441.26" cy="107.86" rx="2" ry="1.16" fill="#777775" opacity="0.85"/><ellipse cx="428.05" cy="53.76" rx="2.06" ry="1.45" fill="#869084" opacity="0.85"/><ellipse cx="381.65" cy="98.93" rx="1.68" ry="1.28" fill="#666664" opacity="0.85"/><ellipse cx="453.38" cy="65.93" rx="2.32" ry="1.12" fill="#949a92" opacity="0.85"/><ellipse cx="418.8" cy="92.62" rx="2.29" ry="1.23" fill="#8a8a88" opacity="0.85"/><ellipse cx="443.77" cy="63.5" rx="2.21" ry="1.5" fill="#7a8279" opacity="0.85"/><ellipse cx="375.11" cy="79.25" rx="1.61" ry="1.26" fill="#9c9c9a" opacity="0.85"/><ellipse cx="426.04" cy="91.54" rx="2.21" ry="1.6" fill="#939391" opacity="0.85"/><ellipse cx="463.06" cy="109.43" rx="2.04" ry="1.09" fill="#8a8a88" opacity="0.85"/><ellipse cx="446" cy="53.12" rx="1.77" ry="1.06" fill="#7a8279" opacity="0.85"/><ellipse cx="368.34" cy="82.46" rx="2.03" ry="1.71" fill="#8a8a88" opacity="0.85"/><ellipse cx="450.26" cy="63.23" rx="2.16" ry="1.5" fill="#949a92" opacity="0.85"/><ellipse cx="416.32" cy="87.88" rx="1.75" ry="1.32" fill="#939391" opacity="0.85"/><ellipse cx="446.69" cy="58.08" rx="2.29" ry="0.92" fill="#828a80" opacity="0.85"/><ellipse cx="437.01" cy="97.24" rx="2.51" ry="0.98" fill="#5f5f5d" opacity="0.85"/><ellipse cx="418.69" cy="103.06" rx="1.35" ry="1.55" fill="#8a8a88" opacity="0.85"/><ellipse cx="439.29" cy="70.41" rx="2.32" ry="1.14" fill="#869084" opacity="0.85"/><ellipse cx="461.66" cy="87.22" rx="1.8" ry="1.14" fill="#949a92" opacity="0.85"/><ellipse cx="390.22" cy="71.7" rx="1.97" ry="1.25" fill="#8a9888" opacity="0.85"/><ellipse cx="387.67" cy="83.5" rx="2.28" ry="1.61" fill="#9c9c9a" opacity="0.85"/><ellipse cx="396.31" cy="68.73" rx="1.58" ry="1.58" fill="#828a80" opacity="0.85"/><ellipse cx="406.24" cy="87.23" rx="2.12" ry="0.94" fill="#7a7a78" opacity="0.85"/><ellipse cx="436.87" cy="95.33" rx="2.66" ry="1.45" fill="#6f9a6c" opacity="0.85"/><ellipse cx="438.04" cy="92.89" rx="2.33" ry="1.69" fill="#939391" opacity="0.85"/><ellipse cx="440.5" cy="92.77" rx="1.45" ry="1.06" fill="#9c9c9a" opacity="0.85"/><ellipse cx="462.83" cy="87.84" rx="2.61" ry="1.03" fill="#828a80" opacity="0.85"/><ellipse cx="430.68" cy="89.11" rx="2.05" ry="1.37" fill="#8a8a88" opacity="0.85"/><ellipse cx="468.41" cy="104.35" rx="2.68" ry="1.3" fill="#4d9a4a" opacity="0.85"/><ellipse cx="408.21" cy="51.96" rx="2.06" ry="1.53" fill="#9aa198" opacity="0.85"/><ellipse cx="439.53" cy="77.31" rx="2.36" ry="0.99" fill="#7a8279" opacity="0.85"/><ellipse cx="489.09" cy="50.87" rx="1.57" ry="1.23" fill="#869084" opacity="0.85"/><ellipse cx="388.22" cy="88.38" rx="1.58" ry="0.95" fill="#4d9a4a" opacity="0.85"/><ellipse cx="461.01" cy="99.66" rx="2.39" ry="0.98" fill="#9c9c9a" opacity="0.85"/><ellipse cx="439.78" cy="99.32" rx="2.67" ry="0.95" fill="#bb7a3a" opacity="0.85"/><ellipse cx="438.26" cy="74.34" rx="2.42" ry="1.02" fill="#828a80" opacity="0.85"/><ellipse cx="473.7" cy="81.93" rx="1.84" ry="1.56" fill="#7a8279" opacity="0.85"/><ellipse cx="454.25" cy="80.64" rx="1.6" ry="1.46" fill="#949a92" opacity="0.85"/><ellipse cx="401.04" cy="94.3" rx="2.02" ry="1.6" fill="#3f8c3e" opacity="0.85"/><ellipse cx="414.1" cy="65.21" rx="2.19" ry="1.1" fill="#869084" opacity="0.85"/><ellipse cx="450.68" cy="108.54" rx="2.6" ry="1.55" fill="#5f5f5d" opacity="0.85"/><ellipse cx="469.56" cy="89.6" rx="1.93" ry="1.38" fill="#949a92" opacity="0.85"/><ellipse cx="465.89" cy="66.1" rx="1.85" ry="1.09" fill="#7a8279" opacity="0.85"/><ellipse cx="459.45" cy="105.08" rx="2.52" ry="1.68" fill="#d48c42" opacity="0.85"/><ellipse cx="431.5" cy="65.36" rx="2.52" ry="1.28" fill="#869084" opacity="0.85"/><ellipse cx="461.45" cy="83" rx="1.52" ry="1.29" fill="#737d71" opacity="0.85"/><ellipse cx="464.42" cy="59.63" rx="2.41" ry="1.59" fill="#869084" opacity="0.85"/><ellipse cx="393.18" cy="48.49" rx="2.05" ry="1.04" fill="#8a9888" opacity="0.85"/><ellipse cx="385.19" cy="102.59" rx="1.99" ry="0.98" fill="#777775" opacity="0.85"/><ellipse cx="465.76" cy="104.23" rx="2.08" ry="1.13" fill="#c9823c" opacity="0.85"/><ellipse cx="469.67" cy="69.04" rx="2.23" ry="1.03" fill="#737d71" opacity="0.85"/><ellipse cx="376.08" cy="58.09" rx="1.81" ry="1.3" fill="#9aa198" opacity="0.85"/><ellipse cx="400.4" cy="104.81" rx="1.67" ry="1.73" fill="#8a8a88" opacity="0.85"/><ellipse cx="402.26" cy="80.15" rx="1.53" ry="1.44" fill="#8a8a88" opacity="0.85"/><ellipse cx="398.36" cy="84.52" rx="1.44" ry="1.08" fill="#8a8a88" opacity="0.85"/><ellipse cx="475.13" cy="88.11" rx="2.15" ry="1.14" fill="#6f9a6c" opacity="0.85"/><ellipse cx="461.76" cy="77.22" rx="2.47" ry="1.47" fill="#8a9888" opacity="0.85"/><ellipse cx="488.67" cy="63.81" rx="1.81" ry="1.8" fill="#8a8a88" opacity="0.85"/><ellipse cx="403.22" cy="46.15" rx="2.18" ry="1.51" fill="#7a8279" opacity="0.85"/><ellipse cx="480.85" cy="49.01" rx="2.3" ry="1.55" fill="#737d71" opacity="0.85"/><ellipse cx="451.13" cy="51.02" rx="2.19" ry="1.35" fill="#828a80" opacity="0.85"/><ellipse cx="405.4" cy="78.97" rx="1.86" ry="1.11" fill="#9c9c9a" opacity="0.85"/><ellipse cx="453.22" cy="57.43" rx="2.72" ry="0.94" fill="#828a80" opacity="0.85"/><ellipse cx="482.19" cy="64.12" rx="2.39" ry="1.35" fill="#737d71" opacity="0.85"/><ellipse cx="391.62" cy="90.13" rx="2.01" ry="1.23" fill="#c9823c" opacity="0.85"/><ellipse cx="404.95" cy="73.25" rx="1.64" ry="1.07" fill="#8a9888" opacity="0.85"/><ellipse cx="368.9" cy="96.86" rx="2" ry="1.72" fill="#6c6c6a" opacity="0.85"/><ellipse cx="464.63" cy="56.24" rx="1.71" ry="1.55" fill="#869084" opacity="0.85"/><ellipse cx="368.41" cy="78.89" rx="2.69" ry="1.25" fill="#8a8a88" opacity="0.85"/><ellipse cx="382.15" cy="53.02" rx="1.6" ry="1.06" fill="#828a80" opacity="0.85"/><ellipse cx="428.79" cy="55.29" rx="1.61" ry="1.19" fill="#869084" opacity="0.85"/><ellipse cx="431.36" cy="67.13" rx="1.63" ry="1.24" fill="#869084" opacity="0.85"/><ellipse cx="445.57" cy="60.47" rx="2.57" ry="0.98" fill="#8a9888" opacity="0.85"/><ellipse cx="411.08" cy="64.4" rx="2.7" ry="0.97" fill="#949a92" opacity="0.85"/><ellipse cx="397.77" cy="54.93" rx="2.51" ry="1.56" fill="#7a8279" opacity="0.85"/><ellipse cx="389.81" cy="72.09" rx="2.68" ry="1.05" fill="#7a8279" opacity="0.85"/><ellipse cx="431.42" cy="54.77" rx="2.13" ry="1.06" fill="#949a92" opacity="0.85"/><ellipse cx="373.64" cy="90.85" rx="2.4" ry="1.59" fill="#c9823c" opacity="0.85"/><ellipse cx="445.81" cy="93.02" rx="2.17" ry="1.08" fill="#9c9c9a" opacity="0.85"/><ellipse cx="407.59" cy="100.29" rx="2.08" ry="1.21" fill="#6c6c6a" opacity="0.85"/><ellipse cx="389.14" cy="93.86" rx="1.32" ry="1.72" fill="#6c6c6a" opacity="0.85"/><ellipse cx="386.87" cy="58.51" rx="2.78" ry="0.93" fill="#869084" opacity="0.85"/><ellipse cx="450.53" cy="88.84" rx="1.83" ry="1.74" fill="#8a8a88" opacity="0.85"/><ellipse cx="489.44" cy="49.56" rx="2.4" ry="1.47" fill="#828a80" opacity="0.85"/><ellipse cx="474.36" cy="69.04" rx="2.62" ry="1.3" fill="#9aa198" opacity="0.85"/><ellipse cx="479.11" cy="66.74" rx="2.74" ry="1.25" fill="#7a8279" opacity="0.85"/><ellipse cx="422.94" cy="85.38" rx="1.5" ry="1.12" fill="#6f9a6c" opacity="0.85"/><ellipse cx="360.93" cy="92.29" rx="1.45" ry="1.13" fill="#8a8a88" opacity="0.85"/><ellipse cx="435.51" cy="88.97" rx="1.66" ry="1.3" fill="#6f9a6c" opacity="0.85"/><ellipse cx="399.2" cy="51.32" rx="1.46" ry="0.99" fill="#949a92" opacity="0.85"/><ellipse cx="420.06" cy="83.06" rx="1.47" ry="1.01" fill="#a0a09e" opacity="0.85"/><ellipse cx="477.13" cy="86.24" rx="2.59" ry="1.03" fill="#9c9c9a" opacity="0.85"/><ellipse cx="431.63" cy="102.23" rx="2.72" ry="0.92" fill="#8a8a88" opacity="0.85"/><ellipse cx="440.71" cy="98.12" rx="2.09" ry="1.26" fill="#c9823c" opacity="0.85"/><ellipse cx="397.43" cy="62.75" rx="2.4" ry="1.49" fill="#828a80" opacity="0.85"/><ellipse cx="394.81" cy="75.25" rx="1.47" ry="1.26" fill="#737d71" opacity="0.85"/><ellipse cx="384.4" cy="76.93" rx="1.32" ry="1" fill="#939391" opacity="0.85"/><ellipse cx="375.37" cy="69.3" rx="2.11" ry="0.91" fill="#949a92" opacity="0.85"/><ellipse cx="440.45" cy="107.12" rx="1.35" ry="1.48" fill="#6c6c6a" opacity="0.85"/><ellipse cx="386.8" cy="96.92" rx="2.24" ry="1.63" fill="#5f5f5d" opacity="0.85"/><ellipse cx="364.5" cy="71.11" rx="1.48" ry="1.43" fill="#9c9c9a" opacity="0.85"/><ellipse cx="387.19" cy="80.38" rx="2.7" ry="1.3" fill="#6f9a6c" opacity="0.85"/><ellipse cx="481.68" cy="89.03" rx="1.67" ry="0.98" fill="#5f5f5d" opacity="0.85"/><ellipse cx="437.05" cy="88.47" rx="1.88" ry="1.39" fill="#939391" opacity="0.85"/><ellipse cx="392.34" cy="81.27" rx="1.35" ry="1.2" fill="#a0a09e" opacity="0.85"/><ellipse cx="375.57" cy="86.58" rx="1.32" ry="1.22" fill="#777775" opacity="0.85"/><ellipse cx="473.83" cy="62.61" rx="1.86" ry="1.09" fill="#737d71" opacity="0.85"/><ellipse cx="476.24" cy="60.86" rx="2.48" ry="1.01" fill="#7a8279" opacity="0.85"/><ellipse cx="412.24" cy="48.84" rx="2.57" ry="1.15" fill="#8a9888" opacity="0.85"/><ellipse cx="459.38" cy="84.63" rx="2.43" ry="1.01" fill="#9aa198" opacity="0.85"/><ellipse cx="397.2" cy="71.49" rx="1.68" ry="1.33" fill="#9aa198" opacity="0.85"/><ellipse cx="387.23" cy="93.19" rx="1.49" ry="1.68" fill="#4d9a4a" opacity="0.85"/><ellipse cx="433.53" cy="82.83" rx="1.61" ry="1.49" fill="#737d71" opacity="0.85"/><ellipse cx="388.78" cy="92.47" rx="1.98" ry="1.31" fill="#c9823c" opacity="0.85"/><ellipse cx="453.57" cy="66.85" rx="2.14" ry="1.32" fill="#8a9888" opacity="0.85"/><ellipse cx="403.58" cy="67.4" rx="1.83" ry="1" fill="#737d71" opacity="0.85"/><ellipse cx="432.01" cy="89.36" rx="2.53" ry="1.2" fill="#8a8a88" opacity="0.85"/><ellipse cx="383.43" cy="69.41" rx="2.65" ry="1.57" fill="#8a9888" opacity="0.85"/><ellipse cx="478.8" cy="67.39" rx="2.48" ry="1.28" fill="#737d71" opacity="0.85"/><ellipse cx="423.52" cy="97.45" rx="1.36" ry="1.51" fill="#bb7a3a" opacity="0.85"/><ellipse cx="407.79" cy="83.07" rx="2.14" ry="1.42" fill="#939391" opacity="0.85"/><ellipse cx="419.06" cy="78.33" rx="2.66" ry="1.31" fill="#737d71" opacity="0.85"/><ellipse cx="448.97" cy="102.22" rx="1.78" ry="1.78" fill="#bb7a3a" opacity="0.85"/><ellipse cx="468.6" cy="83.98" rx="2.32" ry="1.11" fill="#7a8279" opacity="0.85"/><ellipse cx="440.14" cy="84.88" rx="2.12" ry="1.25" fill="#869084" opacity="0.85"/><ellipse cx="375.46" cy="58.23" rx="2.19" ry="0.97" fill="#9aa198" opacity="0.85"/><ellipse cx="431.2" cy="93.24" rx="1.36" ry="1.27" fill="#939391" opacity="0.85"/><ellipse cx="462.99" cy="67.93" rx="2.17" ry="1.54" fill="#9aa198" opacity="0.85"/><ellipse cx="406.04" cy="51.68" rx="2.34" ry="1.04" fill="#7a8279" opacity="0.85"/><ellipse cx="420.69" cy="87.15" rx="2.61" ry="1.71" fill="#a0a09e" opacity="0.85"/><ellipse cx="423.09" cy="55.21" rx="1.98" ry="0.99" fill="#949a92" opacity="0.85"/><ellipse cx="372.9" cy="84.75" rx="2.22" ry="1.63" fill="#7a7a78" opacity="0.85"/><ellipse cx="460.5" cy="69.18" rx="1.73" ry="1.09" fill="#9aa198" opacity="0.85"/><ellipse cx="380.13" cy="74.89" rx="1.96" ry="1.46" fill="#8a8a88" opacity="0.85"/><ellipse cx="467.12" cy="67.69" rx="1.75" ry="1.52" fill="#737d71" opacity="0.85"/><ellipse cx="446.88" cy="96.64" rx="1.63" ry="1.18" fill="#6f9a6c" opacity="0.85"/><ellipse cx="475.79" cy="81.78" rx="1.43" ry="1.05" fill="#9c9c9a" opacity="0.85"/><ellipse cx="476.82" cy="74.89" rx="1.56" ry="1.27" fill="#828a80" opacity="0.85"/><ellipse cx="404.3" cy="75.45" rx="2.75" ry="1.2" fill="#7a8279" opacity="0.85"/><ellipse cx="481.3" cy="87.2" rx="1.59" ry="1.16" fill="#777775" opacity="0.85"/><ellipse cx="444.98" cy="70.63" rx="1.74" ry="0.99" fill="#949a92" opacity="0.85"/><ellipse cx="376.66" cy="86.5" rx="1.96" ry="1.65" fill="#c9823c" opacity="0.85"/><ellipse cx="465.52" cy="56.42" rx="1.7" ry="1.18" fill="#828a80" opacity="0.85"/><ellipse cx="439.88" cy="89.3" rx="2.73" ry="1.35" fill="#a0a09e" opacity="0.85"/><ellipse cx="381.18" cy="79.31" rx="2.71" ry="1.8" fill="#9c9c9a" opacity="0.85"/><ellipse cx="435.01" cy="78.35" rx="2.15" ry="1.18" fill="#828a80" opacity="0.85"/><ellipse cx="422.49" cy="53.79" rx="1.57" ry="1.26" fill="#869084" opacity="0.85"/><ellipse cx="427.22" cy="65.09" rx="2.47" ry="0.92" fill="#869084" opacity="0.85"/><ellipse cx="452.86" cy="55.32" rx="1.95" ry="0.96" fill="#7a8279" opacity="0.85"/><ellipse cx="394.87" cy="95.69" rx="2.67" ry="1.62" fill="#c9823c" opacity="0.85"/><ellipse cx="458.73" cy="59.04" rx="1.84" ry="1.06" fill="#9aa198" opacity="0.85"/><ellipse cx="389.23" cy="75.46" rx="2.46" ry="1.69" fill="#7a7a78" opacity="0.85"/><ellipse cx="473.75" cy="54.31" rx="1.65" ry="1.16" fill="#828a80" opacity="0.85"/><ellipse cx="464.71" cy="97.89" rx="1.34" ry="1.53" fill="#7a7a78" opacity="0.85"/><ellipse cx="362.26" cy="66.74" rx="2.68" ry="1.41" fill="#828a80" opacity="0.85"/><ellipse cx="376.92" cy="67.64" rx="2.43" ry="1.29" fill="#8a9888" opacity="0.85"/><ellipse cx="430.42" cy="61.76" rx="2.4" ry="1.08" fill="#8a9888" opacity="0.85"/><ellipse cx="411.5" cy="97.38" rx="1.47" ry="1.59" fill="#c9823c" opacity="0.85"/><ellipse cx="475.77" cy="89.64" rx="2.32" ry="0.93" fill="#d48c42" opacity="0.85"/><ellipse cx="408.92" cy="102.03" rx="2.22" ry="1.1" fill="#666664" opacity="0.85"/><ellipse cx="424.99" cy="71.22" rx="2.02" ry="1.14" fill="#8a9888" opacity="0.85"/><ellipse cx="421.45" cy="97.7" rx="1.98" ry="0.95" fill="#4d9a4a" opacity="0.85"/><ellipse cx="449.95" cy="77.41" rx="2.59" ry="1.44" fill="#737d71" opacity="0.85"/><ellipse cx="419.47" cy="58.77" rx="2.56" ry="1.29" fill="#9aa198" opacity="0.85"/><ellipse cx="373.48" cy="56.77" rx="2.29" ry="1.28" fill="#869084" opacity="0.85"/><ellipse cx="400.24" cy="76.11" rx="2.29" ry="1" fill="#949a92" opacity="0.85"/><ellipse cx="448.19" cy="81.94" rx="1.73" ry="1.07" fill="#8a9888" opacity="0.85"/><ellipse cx="423.25" cy="78.71" rx="1.89" ry="1.11" fill="#9aa198" opacity="0.85"/><ellipse cx="477.16" cy="55.07" rx="1.74" ry="1.34" fill="#737d71" opacity="0.85"/><ellipse cx="365.22" cy="77.12" rx="2.32" ry="1.04" fill="#9c9c9a" opacity="0.85"/><ellipse cx="407.29" cy="60.09" rx="1.81" ry="1.15" fill="#9aa198" opacity="0.85"/><ellipse cx="389.01" cy="59.37" rx="1.83" ry="1.57" fill="#9aa198" opacity="0.85"/><ellipse cx="371.55" cy="78.72" rx="1.84" ry="1.05" fill="#6f9a6c" opacity="0.85"/><ellipse cx="363.89" cy="82.13" rx="2.03" ry="1.61" fill="#7a7a78" opacity="0.85"/><ellipse cx="394.98" cy="72.03" rx="2.3" ry="1.34" fill="#7a8279" opacity="0.85"/><ellipse cx="384.71" cy="63.19" rx="2.45" ry="0.92" fill="#949a92" opacity="0.85"/><ellipse cx="405.71" cy="55.32" rx="1.66" ry="1.35" fill="#828a80" opacity="0.85"/><ellipse cx="469.24" cy="101.9" rx="1.87" ry="1.48" fill="#a0a09e" opacity="0.85"/><ellipse cx="400.01" cy="61.96" rx="2.17" ry="1.16" fill="#949a92" opacity="0.85"/><ellipse cx="469.38" cy="62.67" rx="1.55" ry="1.46" fill="#7a8279" opacity="0.85"/><ellipse cx="406.87" cy="47.94" rx="2.09" ry="1.25" fill="#949a92" opacity="0.85"/><ellipse cx="370.99" cy="67.37" rx="2.28" ry="1" fill="#737d71" opacity="0.85"/><ellipse cx="381.21" cy="54.79" rx="2.76" ry="0.96" fill="#9aa198" opacity="0.85"/><ellipse cx="353.83" cy="78.28" rx="1.63" ry="1.24" fill="#9c9c9a" opacity="0.85"/><ellipse cx="469.7" cy="83.88" rx="1.8" ry="1.36" fill="#949a92" opacity="0.85"/><ellipse cx="423.13" cy="76.85" rx="1.49" ry="0.91" fill="#828a80" opacity="0.85"/><ellipse cx="487.58" cy="57.75" rx="1.63" ry="1.11" fill="#9aa198" opacity="0.85"/><ellipse cx="412.7" cy="87.94" rx="2.15" ry="1.32" fill="#a0a09e" opacity="0.85"/><ellipse cx="427.24" cy="84.31" rx="2.76" ry="1.72" fill="#7a7a78" opacity="0.85"/><ellipse cx="466.43" cy="48.68" rx="1.86" ry="1.36" fill="#9aa198" opacity="0.85"/><ellipse cx="430.49" cy="76.85" rx="2.07" ry="1.35" fill="#828a80" opacity="0.85"/><ellipse cx="391.7" cy="70.79" rx="1.44" ry="1.03" fill="#9aa198" opacity="0.85"/><ellipse cx="447.09" cy="78.89" rx="1.61" ry="1.31" fill="#7a8279" opacity="0.85"/><ellipse cx="400.56" cy="62.74" rx="1.95" ry="0.98" fill="#8a9888" opacity="0.85"/><ellipse cx="428.02" cy="52.76" rx="2.57" ry="1.35" fill="#869084" opacity="0.85"/><ellipse cx="375.38" cy="96.28" rx="2.03" ry="1.4" fill="#666664" opacity="0.85"/><ellipse cx="381.08" cy="88.67" rx="2.66" ry="1.41" fill="#c9823c" opacity="0.85"/><ellipse cx="472.32" cy="97" rx="2.6" ry="1.4" fill="#d48c42" opacity="0.85"/><ellipse cx="452.33" cy="103.04" rx="2.07" ry="1.31" fill="#4d9a4a" opacity="0.85"/><ellipse cx="448.15" cy="86.46" rx="2.19" ry="1.44" fill="#949a92" opacity="0.85"/><ellipse cx="434.77" cy="60.62" rx="1.57" ry="0.99" fill="#828a80" opacity="0.85"/><ellipse cx="480.65" cy="50.84" rx="1.68" ry="0.98" fill="#869084" opacity="0.85"/><ellipse cx="454.32" cy="71.66" rx="2.44" ry="1.14" fill="#828a80" opacity="0.85"/><ellipse cx="459.49" cy="97.08" rx="1.48" ry="1.24" fill="#a0a09e" opacity="0.85"/><ellipse cx="453.38" cy="47.39" rx="1.89" ry="1.15" fill="#737d71" opacity="0.85"/><ellipse cx="395.79" cy="91.04" rx="1.66" ry="1.22" fill="#4d9a4a" opacity="0.85"/><ellipse cx="463.51" cy="82.07" rx="2.52" ry="1.03" fill="#7a8279" opacity="0.85"/><ellipse cx="428.92" cy="66.62" rx="2.34" ry="1.49" fill="#9aa198" opacity="0.85"/><ellipse cx="433.89" cy="63.52" rx="2.47" ry="1.09" fill="#9aa198" opacity="0.85"/><ellipse cx="412.84" cy="45.93" rx="2.08" ry="1.24" fill="#949a92" opacity="0.85"/><ellipse cx="358.89" cy="92.39" rx="2.32" ry="1.25" fill="#666664" opacity="0.85"/><ellipse cx="417.46" cy="56.35" rx="2.03" ry="1.06" fill="#869084" opacity="0.85"/><ellipse cx="400.7" cy="85.2" rx="2.64" ry="1.43" fill="#a0a09e" opacity="0.85"/><ellipse cx="400.7" cy="80.49" rx="2" ry="1.74" fill="#6f9a6c" opacity="0.85"/><ellipse cx="393.9" cy="70.17" rx="1.87" ry="0.91" fill="#8a9888" opacity="0.85"/><ellipse cx="445.96" cy="65.27" rx="1.49" ry="1.59" fill="#828a80" opacity="0.85"/><ellipse cx="400.1" cy="88.74" rx="2.74" ry="1.79" fill="#6f9a6c" opacity="0.85"/><ellipse cx="352.98" cy="87.73" rx="2.61" ry="1.6" fill="#6c6c6a" opacity="0.85"/><ellipse cx="440.43" cy="93.5" rx="2.49" ry="1.61" fill="#a0a09e" opacity="0.85"/><ellipse cx="452.49" cy="70.09" rx="1.87" ry="1.13" fill="#9aa198" opacity="0.85"/><ellipse cx="401.62" cy="62.99" rx="2.8" ry="1.01" fill="#949a92" opacity="0.85"/><ellipse cx="446.02" cy="75.59" rx="2.2" ry="1.11" fill="#8a9888" opacity="0.85"/><ellipse cx="392.02" cy="68.06" rx="2.2" ry="1.36" fill="#9aa198" opacity="0.85"/><ellipse cx="489.01" cy="49.73" rx="2.22" ry="0.96" fill="#949a92" opacity="0.85"/><ellipse cx="374.1" cy="89.28" rx="2.76" ry="1.52" fill="#5f5f5d" opacity="0.85"/><ellipse cx="470.43" cy="68.9" rx="1.79" ry="1.08" fill="#949a92" opacity="0.85"/><ellipse cx="387.14" cy="98.94" rx="1.37" ry="1.3" fill="#8a8a88" opacity="0.85"/><ellipse cx="478.35" cy="66.05" rx="2.31" ry="1.04" fill="#737d71" opacity="0.85"/><ellipse cx="435.75" cy="50.19" rx="2.54" ry="1.3" fill="#869084" opacity="0.85"/><ellipse cx="387.51" cy="94.11" rx="2.68" ry="1.09" fill="#bb7a3a" opacity="0.85"/><ellipse cx="395.71" cy="102.45" rx="2.03" ry="1.45" fill="#666664" opacity="0.85"/><ellipse cx="464.86" cy="57.61" rx="1.98" ry="0.93" fill="#869084" opacity="0.85"/><ellipse cx="439.44" cy="70.09" rx="2.78" ry="1.18" fill="#8a9888" opacity="0.85"/><ellipse cx="351.76" cy="68.72" rx="2.78" ry="0.95" fill="#939391" opacity="0.85"/><ellipse cx="437.64" cy="100.48" rx="1.33" ry="1.09" fill="#c9823c" opacity="0.85"/><ellipse cx="400.25" cy="72.21" rx="2.15" ry="1.31" fill="#828a80" opacity="0.85"/><ellipse cx="429.03" cy="95.27" rx="1.65" ry="1.46" fill="#bb7a3a" opacity="0.85"/><ellipse cx="466.76" cy="81.25" rx="2.49" ry="1.12" fill="#7a8279" opacity="0.85"/><ellipse cx="414.16" cy="65.7" rx="2.14" ry="1.09" fill="#737d71" opacity="0.85"/><ellipse cx="384.93" cy="87.53" rx="2.28" ry="1.6" fill="#8a8a88" opacity="0.85"/><ellipse cx="421.27" cy="87.31" rx="1.69" ry="1.45" fill="#9c9c9a" opacity="0.85"/><ellipse cx="461.75" cy="85.22" rx="2.49" ry="1.07" fill="#828a80" opacity="0.85"/><ellipse cx="440.87" cy="70.85" rx="1.94" ry="1.05" fill="#869084" opacity="0.85"/><ellipse cx="465.79" cy="115.27" rx="2.6" ry="0.95" fill="#666664" opacity="0.85"/><ellipse cx="430.37" cy="75.97" rx="2.72" ry="1.34" fill="#8a9888" opacity="0.85"/><ellipse cx="380.72" cy="63.65" rx="2.39" ry="1.07" fill="#828a80" opacity="0.85"/><ellipse cx="399.73" cy="69.43" rx="2.3" ry="1.11" fill="#8a9888" opacity="0.85"/><ellipse cx="431.15" cy="56.22" rx="2.71" ry="1.44" fill="#869084" opacity="0.85"/><ellipse cx="487.32" cy="54.65" rx="1.8" ry="1.13" fill="#828a80" opacity="0.85"/><ellipse cx="371.59" cy="97.26" rx="2.74" ry="1.09" fill="#9a9a98" opacity="0.85"/><ellipse cx="472.3" cy="101.37" rx="2.6" ry="1.06" fill="#c9823c" opacity="0.85"/><ellipse cx="447.68" cy="51.04" rx="2.3" ry="1.37" fill="#828a80" opacity="0.85"/><ellipse cx="405.91" cy="70.18" rx="2.22" ry="1.04" fill="#7a8279" opacity="0.85"/><ellipse cx="367.69" cy="90.42" rx="1.46" ry="0.92" fill="#4d9a4a" opacity="0.85"/><ellipse cx="476.27" cy="53.4" rx="2.76" ry="1.27" fill="#8a9888" opacity="0.85"/><ellipse cx="426.9" cy="93.39" rx="2.05" ry="1" fill="#6f9a6c" opacity="0.85"/><ellipse cx="399.62" cy="82.71" rx="1.82" ry="1.09" fill="#8a8a88" opacity="0.85"/><ellipse cx="454.78" cy="65.29" rx="1.42" ry="1.09" fill="#949a92" opacity="0.85"/><ellipse cx="489.08" cy="59.32" rx="1.91" ry="1.4" fill="#8a8a88" opacity="0.85"/><ellipse cx="448.47" cy="94.94" rx="1.72" ry="1.2" fill="#6f9a6c" opacity="0.85"/><ellipse cx="456.81" cy="64.95" rx="1.85" ry="1.19" fill="#8a9888" opacity="0.85"/><ellipse cx="404.27" cy="75.98" rx="2.66" ry="1.34" fill="#949a92" opacity="0.85"/><ellipse cx="382.91" cy="83.08" rx="2.34" ry="1.56" fill="#a0a09e" opacity="0.85"/><ellipse cx="444.86" cy="50.77" rx="2.5" ry="1.54" fill="#737d71" opacity="0.85"/><ellipse cx="395.36" cy="94.41" rx="1.98" ry="1.42" fill="#bb7a3a" opacity="0.85"/><ellipse cx="417.13" cy="94.49" rx="2.19" ry="1.8" fill="#bb7a3a" opacity="0.85"/><ellipse cx="382.23" cy="93.1" rx="1.83" ry="0.96" fill="#3f8c3e" opacity="0.85"/><ellipse cx="444.3" cy="108.44" rx="2.24" ry="1.39" fill="#6c6c6a" opacity="0.85"/><ellipse cx="380.6" cy="91.78" rx="2.01" ry="1.55" fill="#c9823c" opacity="0.85"/><ellipse cx="424.22" cy="81.18" rx="2.8" ry="0.95" fill="#949a92" opacity="0.85"/><ellipse cx="458.56" cy="72.4" rx="2.14" ry="1.47" fill="#949a92" opacity="0.85"/><ellipse cx="382.84" cy="57.44" rx="2.33" ry="1.02" fill="#869084" opacity="0.85"/><ellipse cx="395.01" cy="72.22" rx="2.54" ry="0.99" fill="#869084" opacity="0.85"/><ellipse cx="370.46" cy="63.62" rx="1.91" ry="1.36" fill="#7a8279" opacity="0.85"/><ellipse cx="424.3" cy="67.59" rx="1.52" ry="1.18" fill="#9aa198" opacity="0.85"/><ellipse cx="413.6" cy="81.31" rx="2.44" ry="1.03" fill="#9c9c9a" opacity="0.85"/><ellipse cx="447.31" cy="72.62" rx="2.32" ry="1.34" fill="#737d71" opacity="0.85"/><ellipse cx="424.41" cy="106.52" rx="1.33" ry="1.08" fill="#5f5f5d" opacity="0.85"/><ellipse cx="431.3" cy="48.5" rx="1.83" ry="1.28" fill="#949a92" opacity="0.85"/><ellipse cx="481.87" cy="63.94" rx="2.57" ry="0.96" fill="#828a80" opacity="0.85"/><ellipse cx="440.88" cy="110.99" rx="1.49" ry="1.76" fill="#8a8a88" opacity="0.85"/><ellipse cx="402.86" cy="47.26" rx="1.81" ry="1.19" fill="#869084" opacity="0.85"/><ellipse cx="442.64" cy="107.24" rx="1.66" ry="1.66" fill="#5f5f5d" opacity="0.85"/><ellipse cx="366.9" cy="92.25" rx="2.17" ry="0.96" fill="#666664" opacity="0.85"/><ellipse cx="359.67" cy="78.75" rx="2.09" ry="1.35" fill="#7a7a78" opacity="0.85"/><ellipse cx="415.53" cy="80.05" rx="2.01" ry="1.6" fill="#869084" opacity="0.85"/><ellipse cx="406.05" cy="54.55" rx="2.55" ry="1.37" fill="#869084" opacity="0.85"/><ellipse cx="456.11" cy="75.33" rx="2.7" ry="1.11" fill="#7a8279" opacity="0.85"/><ellipse cx="396.2" cy="74.22" rx="1.57" ry="1.05" fill="#8a9888" opacity="0.85"/><ellipse cx="457.98" cy="88.02" rx="2.55" ry="1.04" fill="#7a8279" opacity="0.85"/><ellipse cx="428.36" cy="102.34" rx="1.51" ry="1.27" fill="#9a9a98" opacity="0.85"/><ellipse cx="394.79" cy="58.84" rx="1.66" ry="1.28" fill="#7a8279" opacity="0.85"/><ellipse cx="423.92" cy="50.76" rx="1.76" ry="1.5" fill="#8a9888" opacity="0.85"/><ellipse cx="429.13" cy="83.86" rx="2.32" ry="1.18" fill="#7a7a78" opacity="0.85"/><ellipse cx="384.28" cy="73.66" rx="2.6" ry="1.08" fill="#8a9888" opacity="0.85"/><ellipse cx="426.38" cy="73.16" rx="2.32" ry="1.4" fill="#8a9888" opacity="0.85"/><ellipse cx="397.9" cy="79.6" rx="2.13" ry="0.95" fill="#939391" opacity="0.85"/><ellipse cx="393.88" cy="85.58" rx="2.73" ry="1.64" fill="#7a7a78" opacity="0.85"/><ellipse cx="412.11" cy="59.64" rx="2.52" ry="1.31" fill="#949a92" opacity="0.85"/><ellipse cx="356.43" cy="77.83" rx="1.49" ry="1.02" fill="#939391" opacity="0.85"/><ellipse cx="453.31" cy="101.5" rx="2.31" ry="1.51" fill="#d48c42" opacity="0.85"/><ellipse cx="391.05" cy="60.46" rx="1.62" ry="1.44" fill="#869084" opacity="0.85"/><ellipse cx="452.44" cy="84.27" rx="1.53" ry="1.45" fill="#8a9888" opacity="0.85"/><ellipse cx="486.83" cy="76.35" rx="2.55" ry="1.54" fill="#666664" opacity="0.85"/><ellipse cx="412.59" cy="77.12" rx="1.48" ry="1.39" fill="#869084" opacity="0.85"/><ellipse cx="390.87" cy="62.15" rx="2.52" ry="1.39" fill="#737d71" opacity="0.85"/><ellipse cx="453.03" cy="68.15" rx="1.85" ry="1.49" fill="#828a80" opacity="0.85"/><ellipse cx="352.81" cy="73.64" rx="1.74" ry="1.49" fill="#939391" opacity="0.85"/><ellipse cx="449.35" cy="59.46" rx="2.42" ry="1.2" fill="#949a92" opacity="0.85"/><ellipse cx="447.12" cy="52.92" rx="1.89" ry="1.36" fill="#869084" opacity="0.85"/><ellipse cx="378.73" cy="95.18" rx="2.09" ry="1.16" fill="#9a9a98" opacity="0.85"/><ellipse cx="398.8" cy="102.53" rx="2.63" ry="1.72" fill="#777775" opacity="0.85"/><ellipse cx="377.27" cy="65.84" rx="2.24" ry="1.28" fill="#828a80" opacity="0.85"/><ellipse cx="471.43" cy="61.72" rx="1.45" ry="1.32" fill="#828a80" opacity="0.85"/><ellipse cx="355.31" cy="69.98" rx="2.02" ry="1.2" fill="#7a7a78" opacity="0.85"/><ellipse cx="401.15" cy="52.55" rx="1.82" ry="0.95" fill="#869084" opacity="0.85"/><ellipse cx="429.64" cy="51.46" rx="1.56" ry="1.01" fill="#737d71" opacity="0.85"/><ellipse cx="405.42" cy="46.8" rx="2.12" ry="0.97" fill="#7a8279" opacity="0.85"/><ellipse cx="442.43" cy="54.29" rx="2.57" ry="0.95" fill="#737d71" opacity="0.85"/><ellipse cx="454.23" cy="101.27" rx="2.71" ry="1.2" fill="#4d9a4a" opacity="0.85"/><ellipse cx="418.12" cy="55.62" rx="1.55" ry="1.07" fill="#7a8279" opacity="0.85"/><ellipse cx="370.35" cy="65.1" rx="1.56" ry="1.23" fill="#737d71" opacity="0.85"/><ellipse cx="371.95" cy="85.77" rx="2.72" ry="1.16" fill="#bb7a3a" opacity="0.85"/><ellipse cx="426.08" cy="62.69" rx="1.42" ry="1.56" fill="#7a8279" opacity="0.85"/><ellipse cx="419.31" cy="105.7" rx="1.62" ry="1.57" fill="#9a9a98" opacity="0.85"/><ellipse cx="409.9" cy="92.69" rx="2.64" ry="0.98" fill="#c9823c" opacity="0.85"/><ellipse cx="432.46" cy="62.25" rx="2.48" ry="1.26" fill="#737d71" opacity="0.85"/><ellipse cx="467.6" cy="108.07" rx="2.77" ry="0.94" fill="#bb7a3a" opacity="0.85"/><ellipse cx="438.26" cy="97.96" rx="1.43" ry="1.58" fill="#bb7a3a" opacity="0.85"/><ellipse cx="434.41" cy="58.26" rx="2.72" ry="1.19" fill="#828a80" opacity="0.85"/><ellipse cx="407.44" cy="50.87" rx="1.61" ry="1.26" fill="#949a92" opacity="0.85"/><ellipse cx="460.45" cy="59.89" rx="2.36" ry="1.4" fill="#949a92" opacity="0.85"/><ellipse cx="424.73" cy="69.74" rx="2.45" ry="1.35" fill="#7a8279" opacity="0.85"/><ellipse cx="377.06" cy="92.76" rx="1.92" ry="1.49" fill="#c9823c" opacity="0.85"/><ellipse cx="465.29" cy="82.42" rx="2.44" ry="0.99" fill="#869084" opacity="0.85"/><ellipse cx="469.54" cy="106.57" rx="1.88" ry="1.48" fill="#3f8c3e" opacity="0.85"/><ellipse cx="457.21" cy="90.3" rx="2.72" ry="1" fill="#939391" opacity="0.85"/><ellipse cx="381.88" cy="59.45" rx="2.19" ry="1.51" fill="#8a9888" opacity="0.85"/><ellipse cx="444.89" cy="74.8" rx="2.36" ry="1.56" fill="#9aa198" opacity="0.85"/><ellipse cx="468.56" cy="75.69" rx="1.72" ry="1.37" fill="#7a8279" opacity="0.85"/><ellipse cx="463.6" cy="95.74" rx="2.49" ry="0.9" fill="#7a7a78" opacity="0.85"/><ellipse cx="409.12" cy="91.17" rx="1.52" ry="1.39" fill="#7a7a78" opacity="0.85"/><ellipse cx="360.13" cy="74.72" rx="2.23" ry="1.16" fill="#7a7a78" opacity="0.85"/><ellipse cx="360.84" cy="65.14" rx="2.65" ry="1.19" fill="#9aa198" opacity="0.85"/><ellipse cx="426.57" cy="62.85" rx="2.36" ry="0.93" fill="#949a92" opacity="0.85"/><ellipse cx="468.15" cy="58.36" rx="1.87" ry="1.01" fill="#828a80" opacity="0.85"/><ellipse cx="372.44" cy="71.42" rx="2.25" ry="1.53" fill="#869084" opacity="0.85"/><ellipse cx="405.58" cy="82.97" rx="2.49" ry="1.45" fill="#6f9a6c" opacity="0.85"/><ellipse cx="472.61" cy="52.09" rx="2.04" ry="1.47" fill="#949a92" opacity="0.85"/><ellipse cx="384.62" cy="71.48" rx="2.78" ry="1.41" fill="#7a8279" opacity="0.85"/><ellipse cx="457.96" cy="95.96" rx="2.69" ry="1.7" fill="#9c9c9a" opacity="0.85"/><ellipse cx="445.28" cy="49.92" rx="1.86" ry="1.09" fill="#737d71" opacity="0.85"/><ellipse cx="391.19" cy="67.82" rx="2.28" ry="1.16" fill="#9aa198" opacity="0.85"/><ellipse cx="424.24" cy="96.77" rx="2.04" ry="1.52" fill="#777775" opacity="0.85"/><ellipse cx="477.66" cy="53.29" rx="2.03" ry="1.43" fill="#8a9888" opacity="0.85"/><ellipse cx="395.48" cy="54.69" rx="1.6" ry="1.31" fill="#828a80" opacity="0.85"/><ellipse cx="432.21" cy="47.64" rx="1.64" ry="1.31" fill="#8a9888" opacity="0.85"/><ellipse cx="407.5" cy="50.58" rx="2.3" ry="1.25" fill="#9aa198" opacity="0.85"/><ellipse cx="479.82" cy="69.29" rx="2.21" ry="1.48" fill="#869084" opacity="0.85"/><ellipse cx="463.87" cy="71.09" rx="1.68" ry="1.47" fill="#949a92" opacity="0.85"/><ellipse cx="357" cy="68.02" rx="1.64" ry="1.12" fill="#737d71" opacity="0.85"/><ellipse cx="355.81" cy="67.22" rx="2.49" ry="1.15" fill="#8a9888" opacity="0.85"/><ellipse cx="449.25" cy="65.24" rx="1.68" ry="1.12" fill="#8a9888" opacity="0.85"/><ellipse cx="411.99" cy="52.46" rx="1.91" ry="1.12" fill="#828a80" opacity="0.85"/><ellipse cx="463.82" cy="80.86" rx="1.69" ry="1.54" fill="#7a8279" opacity="0.85"/><ellipse cx="441.02" cy="104.73" rx="1.37" ry="1.15" fill="#5f5f5d" opacity="0.85"/><ellipse cx="426.21" cy="95.59" rx="2.43" ry="1.15" fill="#3f8c3e" opacity="0.85"/><ellipse cx="425.28" cy="66.49" rx="1.57" ry="1.21" fill="#9aa198" opacity="0.85"/><ellipse cx="449.92" cy="67.84" rx="2.72" ry="1.09" fill="#737d71" opacity="0.85"/><ellipse cx="428.09" cy="102.79" rx="2.54" ry="1.65" fill="#666664" opacity="0.85"/><ellipse cx="372.22" cy="57.76" rx="2.29" ry="1.38" fill="#9aa198" opacity="0.85"/><ellipse cx="461.09" cy="74.77" rx="2.44" ry="1.14" fill="#869084" opacity="0.85"/><ellipse cx="399.06" cy="58.49" rx="1.6" ry="1.41" fill="#869084" opacity="0.85"/><ellipse cx="390.16" cy="60.62" rx="1.49" ry="1.19" fill="#9aa198" opacity="0.85"/><ellipse cx="445.5" cy="89.07" rx="1.62" ry="1.56" fill="#7a7a78" opacity="0.85"/><ellipse cx="462.64" cy="97" rx="1.53" ry="1.5" fill="#9c9c9a" opacity="0.85"/><ellipse cx="458.1" cy="83.04" rx="2.66" ry="1.42" fill="#828a80" opacity="0.85"/><ellipse cx="467.86" cy="94.61" rx="1.5" ry="1.53" fill="#a0a09e" opacity="0.85"/><ellipse cx="450.75" cy="91.76" rx="2.37" ry="1.59" fill="#a0a09e" opacity="0.85"/><ellipse cx="436.31" cy="83.71" rx="1.7" ry="1.06" fill="#737d71" opacity="0.85"/><ellipse cx="400.52" cy="98.56" rx="1.48" ry="1.76" fill="#6c6c6a" opacity="0.85"/><ellipse cx="379.89" cy="79.7" rx="1.97" ry="1.35" fill="#9c9c9a" opacity="0.85"/><ellipse cx="426.53" cy="80.47" rx="1.71" ry="1.34" fill="#8a9888" opacity="0.85"/><ellipse cx="397.65" cy="69.82" rx="1.72" ry="1.29" fill="#737d71" opacity="0.85"/><ellipse cx="467.79" cy="65.97" rx="2.21" ry="1.4" fill="#869084" opacity="0.85"/><ellipse cx="380.56" cy="57.5" rx="2.11" ry="1.2" fill="#869084" opacity="0.85"/><ellipse cx="357.21" cy="93.14" rx="1.43" ry="1" fill="#666664" opacity="0.85"/><ellipse cx="407.72" cy="96" rx="2.51" ry="1.77" fill="#c9823c" opacity="0.85"/><ellipse cx="358.42" cy="81.27" rx="2.75" ry="1.69" fill="#3f8c3e" opacity="0.85"/><ellipse cx="438.18" cy="58.88" rx="1.67" ry="1.18" fill="#737d71" opacity="0.85"/><ellipse cx="389.26" cy="59.15" rx="2.66" ry="0.91" fill="#9aa198" opacity="0.85"/><ellipse cx="461.5" cy="105.64" rx="1.7" ry="1.4" fill="#c9823c" opacity="0.85"/><ellipse cx="453.05" cy="48.89" rx="1.99" ry="1.48" fill="#949a92" opacity="0.85"/><ellipse cx="441.67" cy="102.29" rx="1.83" ry="1.05" fill="#c9823c" opacity="0.85"/><ellipse cx="392.64" cy="47.45" rx="2.37" ry="1.19" fill="#949a92" opacity="0.85"/><ellipse cx="460.82" cy="70.75" rx="1.62" ry="1.44" fill="#869084" opacity="0.85"/><ellipse cx="430.26" cy="83.62" rx="1.83" ry="1.49" fill="#9c9c9a" opacity="0.85"/><ellipse cx="484.88" cy="59.06" rx="2.72" ry="1.59" fill="#828a80" opacity="0.85"/><ellipse cx="411.77" cy="101.13" rx="1.54" ry="1.71" fill="#777775" opacity="0.85"/><ellipse cx="411.76" cy="54.79" rx="1.7" ry="1.31" fill="#7a8279" opacity="0.85"/><ellipse cx="469.23" cy="105.31" rx="1.61" ry="1.42" fill="#c9823c" opacity="0.85"/><ellipse cx="397.41" cy="87.65" rx="2.03" ry="1.48" fill="#7a7a78" opacity="0.85"/><ellipse cx="378.04" cy="62.99" rx="1.94" ry="0.97" fill="#828a80" opacity="0.85"/><ellipse cx="434.32" cy="53.85" rx="2.02" ry="1.3" fill="#949a92" opacity="0.85"/><ellipse cx="431.24" cy="100.1" rx="1.9" ry="1.51" fill="#d48c42" opacity="0.85"/><ellipse cx="452.21" cy="62.7" rx="2.06" ry="1.52" fill="#9aa198" opacity="0.85"/><ellipse cx="436.46" cy="53.23" rx="2.24" ry="0.94" fill="#8a9888" opacity="0.85"/><ellipse cx="381.39" cy="74.6" rx="2.54" ry="1.47" fill="#939391" opacity="0.85"/><ellipse cx="483.88" cy="61.13" rx="1.46" ry="1.29" fill="#9aa198" opacity="0.85"/><ellipse cx="432.4" cy="76.27" rx="1.61" ry="0.91" fill="#7a8279" opacity="0.85"/><ellipse cx="458.54" cy="52.1" rx="1.54" ry="1" fill="#9aa198" opacity="0.85"/><ellipse cx="425.25" cy="92.04" rx="1.46" ry="1.61" fill="#a0a09e" opacity="0.85"/><ellipse cx="429.16" cy="108.07" rx="2.14" ry="1.45" fill="#9a9a98" opacity="0.85"/><ellipse cx="463.61" cy="85.92" rx="1.48" ry="1.28" fill="#9aa198" opacity="0.85"/><ellipse cx="390.48" cy="74.96" rx="2.18" ry="1.05" fill="#7a8279" opacity="0.85"/><ellipse cx="375.36" cy="83.55" rx="1.61" ry="1.54" fill="#7a7a78" opacity="0.85"/><ellipse cx="455.39" cy="96.39" rx="2.22" ry="0.98" fill="#8a8a88" opacity="0.85"/><ellipse cx="423.87" cy="96.86" rx="2.57" ry="1.66" fill="#d48c42" opacity="0.85"/><ellipse cx="362.81" cy="72.67" rx="1.76" ry="1.17" fill="#a0a09e" opacity="0.85"/><ellipse cx="420.14" cy="88.95" rx="2.45" ry="0.91" fill="#a0a09e" opacity="0.85"/><ellipse cx="449.1" cy="90.7" rx="1.88" ry="1.79" fill="#6f9a6c" opacity="0.85"/><ellipse cx="457.79" cy="50.23" rx="2.57" ry="1.4" fill="#7a8279" opacity="0.85"/><ellipse cx="472.1" cy="77.6" rx="1.65" ry="1.56" fill="#7a8279" opacity="0.85"/><ellipse cx="412.49" cy="99.11" rx="2.57" ry="0.93" fill="#bb7a3a" opacity="0.85"/><ellipse cx="403.81" cy="56.65" rx="2.77" ry="1.36" fill="#949a92" opacity="0.85"/><ellipse cx="457.89" cy="65.39" rx="1.42" ry="1.28" fill="#949a92" opacity="0.85"/><ellipse cx="397.74" cy="86.43" rx="2.68" ry="1.2" fill="#a0a09e" opacity="0.85"/><ellipse cx="460.48" cy="104.45" rx="1.42" ry="1.05" fill="#c9823c" opacity="0.85"/><ellipse cx="410.05" cy="70.28" rx="2.15" ry="1.58" fill="#7a8279" opacity="0.85"/><ellipse cx="371.52" cy="85.41" rx="1.67" ry="1.73" fill="#c9823c" opacity="0.85"/><ellipse cx="483.98" cy="84.47" rx="1.43" ry="1.09" fill="#666664" opacity="0.85"/><ellipse cx="373.74" cy="78.16" rx="1.55" ry="1.75" fill="#939391" opacity="0.85"/><ellipse cx="389.51" cy="74.49" rx="1.76" ry="0.92" fill="#828a80" opacity="0.85"/><ellipse cx="448.91" cy="60.32" rx="2.27" ry="1.36" fill="#828a80" opacity="0.85"/><ellipse cx="456.11" cy="55.08" rx="2.24" ry="1.39" fill="#7a8279" opacity="0.85"/><ellipse cx="392.37" cy="48.99" rx="2.15" ry="0.95" fill="#7a8279" opacity="0.85"/><ellipse cx="358.87" cy="87.47" rx="2.75" ry="1.52" fill="#4d9a4a" opacity="0.85"/><ellipse cx="392.26" cy="75.9" rx="1.56" ry="1.79" fill="#939391" opacity="0.85"/><ellipse cx="415.25" cy="69.17" rx="1.44" ry="1.48" fill="#949a92" opacity="0.85"/><ellipse cx="465.22" cy="96.32" rx="2.24" ry="1.66" fill="#a0a09e" opacity="0.85"/><ellipse cx="462.24" cy="95.61" rx="2.29" ry="1.06" fill="#a0a09e" opacity="0.85"/><ellipse cx="443.23" cy="88.43" rx="1.39" ry="1.17" fill="#9c9c9a" opacity="0.85"/><ellipse cx="484.66" cy="71.72" rx="2.38" ry="1.02" fill="#6f9a6c" opacity="0.85"/><ellipse cx="463.04" cy="63.63" rx="1.63" ry="1.36" fill="#828a80" opacity="0.85"/></g>
<text x="384.7" y="74.8" class="r" font-size="12.5" font-weight="bold" fill="#fff" textLength="68.5" lengthAdjust="spacingAndGlyphs">Zn-Co<tspan font-size="7.5" dy="3">3</tspan><tspan dy="-3">O</tspan><tspan font-size="7.5" dy="3" font-weight="normal">4-x</tspan></text>
<text x="395" y="93.4" class="r" font-size="12.5" font-weight="bold" fill="#fff" text-anchor="start" textLength="46.4" lengthAdjust="spacingAndGlyphs" >battery</text>
<line x1="345" y1="36" x2="345" y2="95" stroke="#444" stroke-width="1" stroke-dasharray="1 1.6"/>
<line x1="425.5" y1="26" x2="425.5" y2="48" stroke="#444" stroke-width="1" stroke-dasharray="1 1.6"/>
<line x1="501.9" y1="37" x2="501.9" y2="123" stroke="#444" stroke-width="1" stroke-dasharray="1 1.6"/>
<polyline points="323,82.3 345.5,82.3 345.5,77.8 345.5,74.3 345.5,68.6 345.5,62.4 345.5,57.2 346.5,52 350,46.9 355,39.8 359.8,37 364.6,35 369.4,34.1 374.1,33.5 378.9,33.1 383.7,32.7 388.4,32.2 393.2,31.8 399,31.3 404.4,30.4 410.4,29 415.7,28 421,26.4 426.4,26.4 430.4,29 435.1,30.8 440.5,32.1 445.8,33.4 451.1,34.4 456,34.8 461,35.1 466,35.6 471,36.1 476.3,37.2 481,38.3 486,39.6 490.6,42.6 494.4,47.6 496.4,54.2 496.8,62.4 496.8,71.5 496.8,82.6 502.3,104.3 502.6,118.8" fill="none" stroke="#f21818" stroke-width="1.8"/>
<circle cx="323" cy="82.3" r="2.75" fill="#f21818"/><circle cx="323" cy="82.3" r="0.5" fill="#ffc8c8"/>
<circle cx="345.5" cy="77.8" r="2.75" fill="#f21818"/><circle cx="345.5" cy="77.8" r="0.5" fill="#ffc8c8"/>
<circle cx="345.5" cy="74.3" r="2.75" fill="#f21818"/><circle cx="345.5" cy="74.3" r="0.5" fill="#ffc8c8"/>
<circle cx="345.5" cy="68.6" r="2.75" fill="#f21818"/><circle cx="345.5" cy="68.6" r="0.5" fill="#ffc8c8"/>
<circle cx="345.5" cy="62.4" r="2.75" fill="#f21818"/><circle cx="345.5" cy="62.4" r="0.5" fill="#ffc8c8"/>
<circle cx="345.5" cy="57.2" r="2.75" fill="#f21818"/><circle cx="345.5" cy="57.2" r="0.5" fill="#ffc8c8"/>
<circle cx="346.5" cy="52" r="2.75" fill="#f21818"/><circle cx="346.5" cy="52" r="0.5" fill="#ffc8c8"/>
<circle cx="350" cy="46.9" r="2.75" fill="#f21818"/><circle cx="350" cy="46.9" r="0.5" fill="#ffc8c8"/>
<circle cx="355" cy="39.8" r="2.75" fill="#f21818"/><circle cx="355" cy="39.8" r="0.5" fill="#ffc8c8"/>
<circle cx="359.8" cy="37" r="2.75" fill="#f21818"/><circle cx="359.8" cy="37" r="0.5" fill="#ffc8c8"/>
<circle cx="364.6" cy="35" r="2.75" fill="#f21818"/><circle cx="364.6" cy="35" r="0.5" fill="#ffc8c8"/>
<circle cx="369.4" cy="34.1" r="2.75" fill="#f21818"/><circle cx="369.4" cy="34.1" r="0.5" fill="#ffc8c8"/>
<circle cx="374.1" cy="33.5" r="2.75" fill="#f21818"/><circle cx="374.1" cy="33.5" r="0.5" fill="#ffc8c8"/>
<circle cx="378.9" cy="33.1" r="2.75" fill="#f21818"/><circle cx="378.9" cy="33.1" r="0.5" fill="#ffc8c8"/>
<circle cx="383.7" cy="32.7" r="2.75" fill="#f21818"/><circle cx="383.7" cy="32.7" r="0.5" fill="#ffc8c8"/>
<circle cx="388.4" cy="32.2" r="2.75" fill="#f21818"/><circle cx="388.4" cy="32.2" r="0.5" fill="#ffc8c8"/>
<circle cx="393.2" cy="31.8" r="2.75" fill="#f21818"/><circle cx="393.2" cy="31.8" r="0.5" fill="#ffc8c8"/>
<circle cx="399" cy="31.3" r="2.75" fill="#f21818"/><circle cx="399" cy="31.3" r="0.5" fill="#ffc8c8"/>
<circle cx="404.4" cy="30.4" r="2.75" fill="#f21818"/><circle cx="404.4" cy="30.4" r="0.5" fill="#ffc8c8"/>
<circle cx="410.4" cy="29" r="2.75" fill="#f21818"/><circle cx="410.4" cy="29" r="0.5" fill="#ffc8c8"/>
<circle cx="415.7" cy="28" r="2.75" fill="#f21818"/><circle cx="415.7" cy="28" r="0.5" fill="#ffc8c8"/>
<circle cx="421" cy="26.4" r="2.75" fill="#f21818"/><circle cx="421" cy="26.4" r="0.5" fill="#ffc8c8"/>
<circle cx="426.4" cy="26.4" r="2.75" fill="#f21818"/><circle cx="426.4" cy="26.4" r="0.5" fill="#ffc8c8"/>
<circle cx="430.4" cy="29" r="2.75" fill="#f21818"/><circle cx="430.4" cy="29" r="0.5" fill="#ffc8c8"/>
<circle cx="435.1" cy="30.8" r="2.75" fill="#f21818"/><circle cx="435.1" cy="30.8" r="0.5" fill="#ffc8c8"/>
<circle cx="440.5" cy="32.1" r="2.75" fill="#f21818"/><circle cx="440.5" cy="32.1" r="0.5" fill="#ffc8c8"/>
<circle cx="445.8" cy="33.4" r="2.75" fill="#f21818"/><circle cx="445.8" cy="33.4" r="0.5" fill="#ffc8c8"/>
<circle cx="451.1" cy="34.4" r="2.75" fill="#f21818"/><circle cx="451.1" cy="34.4" r="0.5" fill="#ffc8c8"/>
<circle cx="456" cy="34.8" r="2.75" fill="#f21818"/><circle cx="456" cy="34.8" r="0.5" fill="#ffc8c8"/>
<circle cx="461" cy="35.1" r="2.75" fill="#f21818"/><circle cx="461" cy="35.1" r="0.5" fill="#ffc8c8"/>
<circle cx="466" cy="35.6" r="2.75" fill="#f21818"/><circle cx="466" cy="35.6" r="0.5" fill="#ffc8c8"/>
<circle cx="471" cy="36.1" r="2.75" fill="#f21818"/><circle cx="471" cy="36.1" r="0.5" fill="#ffc8c8"/>
<circle cx="476.3" cy="37.2" r="2.75" fill="#f21818"/><circle cx="476.3" cy="37.2" r="0.5" fill="#ffc8c8"/>
<circle cx="481" cy="38.3" r="2.75" fill="#f21818"/><circle cx="481" cy="38.3" r="0.5" fill="#ffc8c8"/>
<circle cx="486" cy="39.6" r="2.75" fill="#f21818"/><circle cx="486" cy="39.6" r="0.5" fill="#ffc8c8"/>
<circle cx="490.6" cy="42.6" r="2.75" fill="#f21818"/><circle cx="490.6" cy="42.6" r="0.5" fill="#ffc8c8"/>
<circle cx="494.4" cy="47.6" r="2.75" fill="#f21818"/><circle cx="494.4" cy="47.6" r="0.5" fill="#ffc8c8"/>
<circle cx="496.4" cy="54.2" r="2.75" fill="#f21818"/><circle cx="496.4" cy="54.2" r="0.5" fill="#ffc8c8"/>
<circle cx="496.8" cy="62.4" r="2.75" fill="#f21818"/><circle cx="496.8" cy="62.4" r="0.5" fill="#ffc8c8"/>
<circle cx="496.8" cy="71.5" r="2.75" fill="#f21818"/><circle cx="496.8" cy="71.5" r="0.5" fill="#ffc8c8"/>
<circle cx="496.8" cy="82.6" r="2.75" fill="#f21818"/><circle cx="496.8" cy="82.6" r="0.5" fill="#ffc8c8"/>
<circle cx="502.3" cy="104.3" r="2.75" fill="#f21818"/><circle cx="502.3" cy="104.3" r="0.5" fill="#ffc8c8"/>
<circle cx="502.6" cy="118.8" r="2.75" fill="#f21818"/><circle cx="502.6" cy="118.8" r="0.5" fill="#ffc8c8"/>
<line x1="360.8" y1="45" x2="351.5" y2="45" stroke="#111" stroke-width="1.3"/><path d="M345.5,45 L351.5,42.8 L351.5,47.2 Z" fill="#111"/>
<line x1="407" y1="46" x2="417.7" y2="46" stroke="#111" stroke-width="1.3"/><path d="M423.7,46 L417.7,43.8 L417.7,48.2 Z" fill="#111"/>
<line x1="437.8" y1="43.1" x2="432.4" y2="43.1" stroke="#111" stroke-width="1.3"/><path d="M426.4,43.1 L432.4,40.9 L432.4,45.3 Z" fill="#111"/>
<line x1="487" y1="43.8" x2="495.5" y2="43.8" stroke="#111" stroke-width="1.3"/><path d="M501.5,43.8 L495.5,41.6 L495.5,46 Z" fill="#111"/>
<text x="365.5" y="45.8" class="r" font-size="10.5" font-weight="normal" fill="#222" text-anchor="start" textLength="36.5" lengthAdjust="spacingAndGlyphs" stroke="#222" stroke-width="0.2">Charge</text>
<text x="438.4" y="47.1" class="r" font-size="10.5" font-weight="normal" fill="#222" text-anchor="start" textLength="48" lengthAdjust="spacingAndGlyphs" stroke="#222" stroke-width="0.2">Discharge</text>
<line x1="320.7" y1="116.8" x2="350.7" y2="116.8" stroke="#f21818" stroke-width="1.8"/>
<circle cx="335.3" cy="116.8" r="2.75" fill="#f21818"/><circle cx="335.3" cy="116.8" r="0.5" fill="#ffc8c8"/>
<text x="354.4" y="119.6" class="r" font-size="10.2" font-weight="normal" fill="#1a1a1a" text-anchor="start" textLength="111.2" lengthAdjust="spacingAndGlyphs" stroke="#1a1a1a" stroke-width="0.2">Without oxygen- 2mA</text>
<rect x="458.5" y="9.5" width="67.4" height="13.4" fill="#111"/>
<rect x="455.8" y="6.7" width="67.2" height="13.3" fill="#fff" stroke="#aaa" stroke-width="0.8"/>
<text x="457.6" y="17.4" class="r" font-size="11.5" font-weight="normal" fill="#111" text-anchor="start" textLength="63.4" lengthAdjust="spacingAndGlyphs" stroke="#111" stroke-width="0.2">Oxygen-free</text>
<line x1="270" y1="144.4" x2="550" y2="144.4" stroke="#e6e6e6" stroke-width="1"/>
<rect x="320" y="150.8" width="192.7" height="92.7" fill="#fff" stroke="#666" stroke-width="1.6"/>
<line x1="315.6" y1="160.9" x2="320" y2="160.9" stroke="#666" stroke-width="1.4"/>
<text x="314.1" y="163.5" class="r" font-size="7.6" font-weight="normal" fill="#3a3a3a" text-anchor="end" textLength="11.5" lengthAdjust="spacingAndGlyphs" stroke="#3a3a3a" stroke-width="0.3">2.0</text>
<line x1="315.6" y1="181.5" x2="320" y2="181.5" stroke="#666" stroke-width="1.4"/>
<text x="314.1" y="184.1" class="r" font-size="7.6" font-weight="normal" fill="#3a3a3a" text-anchor="end" textLength="11.5" lengthAdjust="spacingAndGlyphs" stroke="#3a3a3a" stroke-width="0.3">1.8</text>
<line x1="315.6" y1="202.1" x2="320" y2="202.1" stroke="#666" stroke-width="1.4"/>
<text x="314.1" y="204.7" class="r" font-size="7.6" font-weight="normal" fill="#3a3a3a" text-anchor="end" textLength="11.5" lengthAdjust="spacingAndGlyphs" stroke="#3a3a3a" stroke-width="0.3">1.6</text>
<line x1="315.6" y1="222.7" x2="320" y2="222.7" stroke="#666" stroke-width="1.4"/>
<text x="314.1" y="225.3" class="r" font-size="7.6" font-weight="normal" fill="#3a3a3a" text-anchor="end" textLength="11.5" lengthAdjust="spacingAndGlyphs" stroke="#3a3a3a" stroke-width="0.3">1.4</text>
<line x1="315.6" y1="243.3" x2="320" y2="243.3" stroke="#666" stroke-width="1.4"/>
<text x="314.1" y="245.9" class="r" font-size="7.6" font-weight="normal" fill="#3a3a3a" text-anchor="end" textLength="11.5" lengthAdjust="spacingAndGlyphs" stroke="#3a3a3a" stroke-width="0.3">1.2</text>
<line x1="317" y1="171.2" x2="320" y2="171.2" stroke="#666" stroke-width="1.3"/>
<line x1="317" y1="191.8" x2="320" y2="191.8" stroke="#666" stroke-width="1.3"/>
<line x1="317" y1="212.4" x2="320" y2="212.4" stroke="#666" stroke-width="1.3"/>
<line x1="317" y1="233" x2="320" y2="233" stroke="#666" stroke-width="1.3"/>
<line x1="323" y1="243.5" x2="323" y2="246.3" stroke="#666" stroke-width="1.3"/>
<text x="323" y="254.2" class="r" font-size="7.6" font-weight="normal" fill="#3a3a3a" text-anchor="middle" textLength="11.7" lengthAdjust="spacingAndGlyphs" stroke="#3a3a3a" stroke-width="0.3">0.0</text>
<line x1="338.8" y1="243.5" x2="338.8" y2="245.5" stroke="#666" stroke-width="1.3"/>
<line x1="354.6" y1="243.5" x2="354.6" y2="246.3" stroke="#666" stroke-width="1.3"/>
<text x="354.6" y="254.2" class="r" font-size="7.6" font-weight="normal" fill="#3a3a3a" text-anchor="middle" textLength="11.7" lengthAdjust="spacingAndGlyphs" stroke="#3a3a3a" stroke-width="0.3">0.1</text>
<line x1="370.4" y1="243.5" x2="370.4" y2="245.5" stroke="#666" stroke-width="1.3"/>
<line x1="386.2" y1="243.5" x2="386.2" y2="246.3" stroke="#666" stroke-width="1.3"/>
<text x="386.2" y="254.2" class="r" font-size="7.6" font-weight="normal" fill="#3a3a3a" text-anchor="middle" textLength="11.7" lengthAdjust="spacingAndGlyphs" stroke="#3a3a3a" stroke-width="0.3">0.2</text>
<line x1="402" y1="243.5" x2="402" y2="245.5" stroke="#666" stroke-width="1.3"/>
<line x1="417.8" y1="243.5" x2="417.8" y2="246.3" stroke="#666" stroke-width="1.3"/>
<text x="417.8" y="254.2" class="r" font-size="7.6" font-weight="normal" fill="#3a3a3a" text-anchor="middle" textLength="11.7" lengthAdjust="spacingAndGlyphs" stroke="#3a3a3a" stroke-width="0.3">0.3</text>
<line x1="433.6" y1="243.5" x2="433.6" y2="245.5" stroke="#666" stroke-width="1.3"/>
<line x1="449.4" y1="243.5" x2="449.4" y2="246.3" stroke="#666" stroke-width="1.3"/>
<text x="449.4" y="254.2" class="r" font-size="7.6" font-weight="normal" fill="#3a3a3a" text-anchor="middle" textLength="11.7" lengthAdjust="spacingAndGlyphs" stroke="#3a3a3a" stroke-width="0.3">0.4</text>
<line x1="465.2" y1="243.5" x2="465.2" y2="245.5" stroke="#666" stroke-width="1.3"/>
<line x1="481" y1="243.5" x2="481" y2="246.3" stroke="#666" stroke-width="1.3"/>
<text x="481" y="254.2" class="r" font-size="7.6" font-weight="normal" fill="#3a3a3a" text-anchor="middle" textLength="11.7" lengthAdjust="spacingAndGlyphs" stroke="#3a3a3a" stroke-width="0.3">0.5</text>
<line x1="496.8" y1="243.5" x2="496.8" y2="245.5" stroke="#666" stroke-width="1.3"/>
<line x1="512.6" y1="243.5" x2="512.6" y2="246.3" stroke="#666" stroke-width="1.3"/>
<text x="512.6" y="254.2" class="r" font-size="7.6" font-weight="normal" fill="#3a3a3a" text-anchor="middle" textLength="11.7" lengthAdjust="spacingAndGlyphs" stroke="#3a3a3a" stroke-width="0.3">0.6</text>
<text transform="translate(289.3,195.8) scale(1.4,1) rotate(-90)" class="r" font-size="8.75" fill="#222" stroke="#222" stroke-width="0.2" text-anchor="middle">Voltage (V vs. Zn)</text>
<text transform="translate(542.2,194.9) scale(1.05,1) rotate(-90)" class="r" font-size="8.3" fill="#222" text-anchor="middle">Voltage (V vs. Zn)</text>
<line x1="335.4" y1="167.2" x2="335.4" y2="243" stroke="#a33ae6" stroke-width="1.3" stroke-dasharray="1.3 1.5"/>
<line x1="335.4" y1="151.5" x2="335.4" y2="153.5" stroke="#a33ae6" stroke-width="1.3" stroke-dasharray="1.3 1.5"/>
<line x1="360.4" y1="151.5" x2="360.4" y2="243" stroke="#a33ae6" stroke-width="1.3" stroke-dasharray="1.3 1.5"/>
<line x1="479" y1="157" x2="479" y2="243" stroke="#a33ae6" stroke-width="1.3" stroke-dasharray="1.3 1.5"/>
<line x1="503.9" y1="151.5" x2="503.9" y2="243" stroke="#a33ae6" stroke-width="1.3" stroke-dasharray="1.3 1.5"/>
<line x1="411.6" y1="151.5" x2="411.6" y2="176" stroke="#f28a1e" stroke-width="1.3" stroke-dasharray="1.3 1.5"/>
<line x1="434.6" y1="151.5" x2="434.6" y2="176" stroke="#f28a1e" stroke-width="1.3" stroke-dasharray="1.3 1.5"/>
<text x="348.5" y="161.8" class="r" font-size="9.5" font-weight="normal" fill="#2a2a2a" text-anchor="middle" textLength="3.5" lengthAdjust="spacingAndGlyphs" stroke="#2a2a2a" stroke-width="0.1">I</text>
<text x="380.8" y="161.8" class="r" font-size="9.5" font-weight="normal" fill="#2a2a2a" text-anchor="middle" textLength="7.5" lengthAdjust="spacingAndGlyphs" stroke="#2a2a2a" stroke-width="0.1">II</text>
<text x="425" y="161.5" class="r" font-size="9.5" font-weight="normal" fill="#2a2a2a" text-anchor="middle" textLength="11" lengthAdjust="spacingAndGlyphs" stroke="#2a2a2a" stroke-width="0.1">III</text>
<text x="457.8" y="161.5" class="r" font-size="9.5" font-weight="normal" fill="#2a2a2a" text-anchor="middle" textLength="12" lengthAdjust="spacingAndGlyphs" stroke="#2a2a2a" stroke-width="0.1">IV</text>
<text x="495.7" y="164.2" class="r" font-size="9.5" font-weight="normal" fill="#2a2a2a" text-anchor="middle" textLength="8" lengthAdjust="spacingAndGlyphs" stroke="#2a2a2a" stroke-width="0.1">V</text>
<polygon points="363,203 375,190.3 387.5,186.5 398,183.5 410,181 420,180 429.4,180.3 442,181.2 454.5,183 465.3,186.5 472.4,190 477.5,196 477,203 474.2,210 469,221 462.6,228.3 456.3,233.7 448,238 440,241 426,241 418,238.5 411.5,235 404.7,232.5 394,231 385.8,231 379,229 373.7,224 367,218.7 363.4,213" fill="#585858"/>
<polygon points="363.4,201 477,206 474.2,210 469,221 462.6,228.3 456.3,233.7 448,238 440,241 426,241 418,238.5 411.5,235 404.7,232.5 394,231 385.8,231 379,229 373.7,224 367,218.7 363.4,213" fill="#7c7c7c"/>
<g><circle cx="414.56" cy="181.74" r="4.05" fill="url(#sph)"/><circle cx="420.03" cy="180.45" r="3.42" fill="url(#sph)"/><circle cx="426.06" cy="180.3" r="3.59" fill="url(#sph)"/><circle cx="391.32" cy="186.06" r="3.87" fill="url(#sph)"/><circle cx="399.06" cy="185.24" r="3.47" fill="url(#sph)"/><circle cx="404.56" cy="185.85" r="3.67" fill="url(#sph)"/><circle cx="409.67" cy="185.13" r="4.36" fill="url(#sph)"/><circle cx="417.22" cy="184.79" r="3.65" fill="url(#sph)"/><circle cx="422.1" cy="184.7" r="4.2" fill="url(#sph)"/><circle cx="428.46" cy="185.49" r="3.85" fill="url(#sph)"/><circle cx="434.68" cy="185.77" r="3.53" fill="url(#sph)"/><circle cx="441.79" cy="184.79" r="3.82" fill="url(#sph)"/><circle cx="447.13" cy="185.03" r="4.37" fill="url(#sph)"/><circle cx="454.51" cy="185.09" r="4.28" fill="url(#sph)"/><circle cx="459.52" cy="185.23" r="4.25" fill="url(#sph)"/><circle cx="382.51" cy="190.53" r="3.88" fill="url(#sph)"/><circle cx="388.95" cy="190.39" r="3.58" fill="url(#sph)"/><circle cx="394.31" cy="190.45" r="4.22" fill="url(#sph)"/><circle cx="400.7" cy="189.3" r="4.14" fill="url(#sph)"/><circle cx="408.28" cy="189.31" r="4.35" fill="url(#sph)"/><circle cx="414.36" cy="189.97" r="3.82" fill="url(#sph)"/><circle cx="419.01" cy="189.06" r="4.36" fill="url(#sph)"/><circle cx="425.48" cy="190.13" r="3.66" fill="url(#sph)"/><circle cx="432.85" cy="189.95" r="3.69" fill="url(#sph)"/><circle cx="437.75" cy="190.15" r="3.47" fill="url(#sph)"/><circle cx="444.06" cy="189.89" r="4.25" fill="url(#sph)"/><circle cx="451.03" cy="189.45" r="4.32" fill="url(#sph)"/><circle cx="456.41" cy="189.03" r="3.67" fill="url(#sph)"/><circle cx="463.09" cy="189.1" r="3.58" fill="url(#sph)"/><circle cx="469.14" cy="189.92" r="3.53" fill="url(#sph)"/><circle cx="372.58" cy="193.46" r="3.42" fill="url(#sph)"/><circle cx="380.32" cy="194.52" r="4.36" fill="url(#sph)"/><circle cx="384.74" cy="194.42" r="3.88" fill="url(#sph)"/><circle cx="392.36" cy="193.91" r="4.4" fill="url(#sph)"/><circle cx="397.25" cy="194.27" r="4.14" fill="url(#sph)"/><circle cx="405.1" cy="194.58" r="4.1" fill="url(#sph)"/><circle cx="411.09" cy="194.86" r="3.75" fill="url(#sph)"/><circle cx="417.07" cy="194.84" r="4.27" fill="url(#sph)"/><circle cx="422.73" cy="194.66" r="4.26" fill="url(#sph)"/><circle cx="429.25" cy="194.4" r="3.78" fill="url(#sph)"/><circle cx="435.47" cy="194.37" r="3.48" fill="url(#sph)"/><circle cx="441.78" cy="194.99" r="4.28" fill="url(#sph)"/><circle cx="448.16" cy="194.02" r="4.14" fill="url(#sph)"/><circle cx="454.06" cy="194.1" r="4.24" fill="url(#sph)"/><circle cx="459.27" cy="194.6" r="3.43" fill="url(#sph)"/><circle cx="466.5" cy="194.17" r="3.63" fill="url(#sph)"/><circle cx="472.9" cy="194.2" r="4.01" fill="url(#sph)"/><circle cx="369.54" cy="199.25" r="4.06" fill="url(#sph)"/><circle cx="376.28" cy="199.23" r="3.73" fill="url(#sph)"/><circle cx="382.93" cy="198.12" r="3.83" fill="url(#sph)"/><circle cx="389.41" cy="199.26" r="4.28" fill="url(#sph)"/><circle cx="394.77" cy="198.73" r="3.72" fill="url(#sph)"/><circle cx="400.47" cy="198.59" r="4.24" fill="url(#sph)"/><circle cx="408.1" cy="198.94" r="4.35" fill="url(#sph)"/><circle cx="413.15" cy="198.07" r="3.85" fill="url(#sph)"/><circle cx="419.35" cy="198.14" r="3.81" fill="url(#sph)"/><circle cx="426.25" cy="198.59" r="3.72" fill="url(#sph)"/><circle cx="432.88" cy="199.37" r="3.85" fill="url(#sph)"/><circle cx="437.55" cy="197.85" r="4.27" fill="url(#sph)"/><circle cx="443.68" cy="198.93" r="3.97" fill="url(#sph)"/><circle cx="450.42" cy="199.07" r="3.42" fill="url(#sph)"/><circle cx="456.27" cy="198.53" r="3.42" fill="url(#sph)"/><circle cx="463.86" cy="198.18" r="3.54" fill="url(#sph)"/><circle cx="468.49" cy="198.81" r="3.85" fill="url(#sph)"/><circle cx="475.86" cy="198.85" r="4.21" fill="url(#sph)"/><circle cx="372.66" cy="202.22" r="3.87" fill="url(#sph)"/><circle cx="379.93" cy="202.49" r="3.67" fill="url(#sph)"/><circle cx="391.94" cy="203.18" r="4.16" fill="url(#sph)"/><circle cx="397.89" cy="203.47" r="4.31" fill="url(#sph)"/><circle cx="403.47" cy="203.69" r="4.12" fill="url(#sph)"/><circle cx="409.76" cy="202.93" r="4.03" fill="url(#sph)"/><circle cx="417.52" cy="202.8" r="3.97" fill="url(#sph)"/><circle cx="423.66" cy="203.47" r="4.34" fill="url(#sph)"/><circle cx="429.03" cy="203.24" r="3.6" fill="url(#sph)"/><circle cx="435.74" cy="203.51" r="4.04" fill="url(#sph)"/><circle cx="441.94" cy="202.54" r="4.3" fill="url(#sph)"/><circle cx="448.66" cy="203.76" r="3.94" fill="url(#sph)"/><circle cx="454.48" cy="202.71" r="4.31" fill="url(#sph)"/><circle cx="460.81" cy="202.76" r="3.48" fill="url(#sph)"/><circle cx="466.18" cy="203.08" r="4.17" fill="url(#sph)"/><circle cx="472.47" cy="202.25" r="4.21" fill="url(#sph)"/><circle cx="364.58" cy="202.5" r="2.75" fill="url(#sph2)" opacity="0.9"/><circle cx="369.43" cy="203.64" r="3.44" fill="url(#sph2)" opacity="0.9"/><circle cx="375.18" cy="204.26" r="3.09" fill="url(#sph2)" opacity="0.9"/><circle cx="381.1" cy="203.15" r="2.82" fill="url(#sph2)" opacity="0.9"/><circle cx="385.65" cy="203.68" r="3.33" fill="url(#sph2)" opacity="0.9"/><circle cx="391.28" cy="204.3" r="3.44" fill="url(#sph2)" opacity="0.9"/><circle cx="396.52" cy="204.2" r="2.98" fill="url(#sph2)" opacity="0.9"/><circle cx="402.49" cy="205.4" r="2.81" fill="url(#sph2)" opacity="0.9"/><circle cx="407.9" cy="205.75" r="3.12" fill="url(#sph2)" opacity="0.9"/><circle cx="412.75" cy="204.74" r="3.14" fill="url(#sph2)" opacity="0.9"/><circle cx="418.01" cy="205.62" r="2.63" fill="url(#sph2)" opacity="0.9"/><circle cx="424.34" cy="205.76" r="3" fill="url(#sph2)" opacity="0.9"/><circle cx="429.4" cy="206.06" r="3.09" fill="url(#sph2)" opacity="0.9"/><circle cx="434.58" cy="205.5" r="3.14" fill="url(#sph2)" opacity="0.9"/><circle cx="439.43" cy="207.14" r="3.52" fill="url(#sph2)" opacity="0.9"/><circle cx="444.54" cy="206.6" r="2.73" fill="url(#sph2)" opacity="0.9"/><circle cx="450.27" cy="207.4" r="3.5" fill="url(#sph2)" opacity="0.9"/><circle cx="455.75" cy="206.85" r="2.79" fill="url(#sph2)" opacity="0.9"/><circle cx="461.44" cy="208.07" r="2.73" fill="url(#sph2)" opacity="0.9"/><circle cx="467.16" cy="206.89" r="2.79" fill="url(#sph2)" opacity="0.9"/><circle cx="471.45" cy="208.14" r="2.92" fill="url(#sph2)" opacity="0.9"/><circle cx="365.91" cy="207.7" r="2.72" fill="url(#sph2)" opacity="0.9"/><circle cx="372.12" cy="207.21" r="2.8" fill="url(#sph2)" opacity="0.9"/><circle cx="377.56" cy="207.75" r="2.98" fill="url(#sph2)" opacity="0.9"/><circle cx="382.73" cy="208.13" r="2.76" fill="url(#sph2)" opacity="0.9"/><circle cx="387.71" cy="208.51" r="3.24" fill="url(#sph2)" opacity="0.9"/><circle cx="393.76" cy="209.14" r="3.21" fill="url(#sph2)" opacity="0.9"/><circle cx="399.81" cy="208.42" r="3.34" fill="url(#sph2)" opacity="0.9"/><circle cx="405.12" cy="209.72" r="2.92" fill="url(#sph2)" opacity="0.9"/><circle cx="409.53" cy="209.95" r="2.82" fill="url(#sph2)" opacity="0.9"/><circle cx="416.3" cy="210.2" r="2.73" fill="url(#sph2)" opacity="0.9"/><circle cx="420.18" cy="210.12" r="2.86" fill="url(#sph2)" opacity="0.9"/><circle cx="425.29" cy="210.51" r="3.02" fill="url(#sph2)" opacity="0.9"/><circle cx="432.08" cy="209.69" r="3" fill="url(#sph2)" opacity="0.9"/><circle cx="437.27" cy="209.74" r="2.8" fill="url(#sph2)" opacity="0.9"/><circle cx="442.66" cy="211.41" r="3.57" fill="url(#sph2)" opacity="0.9"/><circle cx="446.93" cy="210.96" r="3.36" fill="url(#sph2)" opacity="0.9"/><circle cx="453.11" cy="211.52" r="2.79" fill="url(#sph2)" opacity="0.9"/><circle cx="457.64" cy="210.79" r="2.64" fill="url(#sph2)" opacity="0.9"/><circle cx="464" cy="211.73" r="3.17" fill="url(#sph2)" opacity="0.9"/><circle cx="468.59" cy="211.41" r="2.8" fill="url(#sph2)" opacity="0.9"/><circle cx="369.32" cy="212.11" r="2.93" fill="url(#sph2)" opacity="0.9"/><circle cx="374.73" cy="211.95" r="3.03" fill="url(#sph2)" opacity="0.9"/><circle cx="380.4" cy="211.4" r="3.3" fill="url(#sph2)" opacity="0.9"/><circle cx="386.29" cy="211.93" r="3.05" fill="url(#sph2)" opacity="0.9"/><circle cx="391.48" cy="212.52" r="2.8" fill="url(#sph2)" opacity="0.9"/><circle cx="395.73" cy="212.88" r="2.62" fill="url(#sph2)" opacity="0.9"/><circle cx="402.59" cy="213.65" r="3.3" fill="url(#sph2)" opacity="0.9"/><circle cx="407.92" cy="213.61" r="3" fill="url(#sph2)" opacity="0.9"/><circle cx="412.8" cy="213.63" r="3.58" fill="url(#sph2)" opacity="0.9"/><circle cx="418.61" cy="213.5" r="3.51" fill="url(#sph2)" opacity="0.9"/><circle cx="423.89" cy="214.56" r="3.41" fill="url(#sph2)" opacity="0.9"/><circle cx="428.61" cy="214.96" r="3.48" fill="url(#sph2)" opacity="0.9"/><circle cx="434.59" cy="215.02" r="3.37" fill="url(#sph2)" opacity="0.9"/><circle cx="439.41" cy="215.17" r="2.67" fill="url(#sph2)" opacity="0.9"/><circle cx="444.68" cy="215" r="2.61" fill="url(#sph2)" opacity="0.9"/><circle cx="450.11" cy="215.51" r="3.22" fill="url(#sph2)" opacity="0.9"/><circle cx="455.26" cy="216.23" r="3.27" fill="url(#sph2)" opacity="0.9"/><circle cx="460.88" cy="216.03" r="3.17" fill="url(#sph2)" opacity="0.9"/><circle cx="466.67" cy="215.85" r="3.6" fill="url(#sph2)" opacity="0.9"/><circle cx="365.75" cy="215.91" r="3.34" fill="url(#sph2)" opacity="0.9"/><circle cx="371.61" cy="215.83" r="2.65" fill="url(#sph2)" opacity="0.9"/><circle cx="376.89" cy="216.02" r="2.7" fill="url(#sph2)" opacity="0.9"/><circle cx="382.4" cy="217.12" r="3.15" fill="url(#sph2)" opacity="0.9"/><circle cx="388.32" cy="217.48" r="3.17" fill="url(#sph2)" opacity="0.9"/><circle cx="394.69" cy="217.24" r="3.41" fill="url(#sph2)" opacity="0.9"/><circle cx="398.25" cy="217.33" r="3.36" fill="url(#sph2)" opacity="0.9"/><circle cx="403.59" cy="218.1" r="2.76" fill="url(#sph2)" opacity="0.9"/><circle cx="409.84" cy="217.16" r="3.1" fill="url(#sph2)" opacity="0.9"/><circle cx="415.52" cy="217.24" r="3.55" fill="url(#sph2)" opacity="0.9"/><circle cx="420.54" cy="218.21" r="3.2" fill="url(#sph2)" opacity="0.9"/><circle cx="425.83" cy="218.06" r="3.26" fill="url(#sph2)" opacity="0.9"/><circle cx="431.62" cy="218.32" r="3.32" fill="url(#sph2)" opacity="0.9"/><circle cx="436.49" cy="218.1" r="2.85" fill="url(#sph2)" opacity="0.9"/><circle cx="441.39" cy="218.55" r="3.35" fill="url(#sph2)" opacity="0.9"/><circle cx="447.48" cy="220.01" r="3.35" fill="url(#sph2)" opacity="0.9"/><circle cx="452.2" cy="220.36" r="3.54" fill="url(#sph2)" opacity="0.9"/><circle cx="457.65" cy="220.47" r="3.03" fill="url(#sph2)" opacity="0.9"/><circle cx="463.86" cy="220.86" r="2.84" fill="url(#sph2)" opacity="0.9"/><circle cx="369.65" cy="220.03" r="2.8" fill="url(#sph2)" opacity="0.9"/><circle cx="373.9" cy="220.33" r="2.72" fill="url(#sph2)" opacity="0.9"/><circle cx="380.09" cy="220.83" r="3.06" fill="url(#sph2)" opacity="0.9"/><circle cx="385.12" cy="220.92" r="3.02" fill="url(#sph2)" opacity="0.9"/><circle cx="391.56" cy="221.12" r="3.6" fill="url(#sph2)" opacity="0.9"/><circle cx="397.31" cy="221.71" r="2.84" fill="url(#sph2)" opacity="0.9"/><circle cx="401.03" cy="222.13" r="3.38" fill="url(#sph2)" opacity="0.9"/><circle cx="407.45" cy="221.56" r="2.87" fill="url(#sph2)" opacity="0.9"/><circle cx="412.97" cy="222.13" r="3.19" fill="url(#sph2)" opacity="0.9"/><circle cx="418.27" cy="222.67" r="2.79" fill="url(#sph2)" opacity="0.9"/><circle cx="422.9" cy="223.24" r="3.52" fill="url(#sph2)" opacity="0.9"/><circle cx="429.56" cy="222.03" r="2.66" fill="url(#sph2)" opacity="0.9"/><circle cx="433.74" cy="222.84" r="3.22" fill="url(#sph2)" opacity="0.9"/><circle cx="438.8" cy="223.25" r="2.67" fill="url(#sph2)" opacity="0.9"/><circle cx="444.17" cy="223.71" r="3.15" fill="url(#sph2)" opacity="0.9"/><circle cx="450.66" cy="223.51" r="3.08" fill="url(#sph2)" opacity="0.9"/><circle cx="455.22" cy="223.67" r="3.34" fill="url(#sph2)" opacity="0.9"/><circle cx="461.88" cy="223.53" r="2.72" fill="url(#sph2)" opacity="0.9"/><circle cx="377.15" cy="224.71" r="3.35" fill="url(#sph2)" opacity="0.9"/><circle cx="383.74" cy="224.81" r="2.97" fill="url(#sph2)" opacity="0.9"/><circle cx="387.49" cy="225.69" r="2.68" fill="url(#sph2)" opacity="0.9"/><circle cx="392.87" cy="225.44" r="3.08" fill="url(#sph2)" opacity="0.9"/><circle cx="399.47" cy="225.31" r="3.38" fill="url(#sph2)" opacity="0.9"/><circle cx="403.65" cy="225.36" r="3.26" fill="url(#sph2)" opacity="0.9"/><circle cx="409.06" cy="225.74" r="3.32" fill="url(#sph2)" opacity="0.9"/><circle cx="415.69" cy="226" r="2.74" fill="url(#sph2)" opacity="0.9"/><circle cx="420.42" cy="226.92" r="2.97" fill="url(#sph2)" opacity="0.9"/><circle cx="425.33" cy="227.12" r="3.17" fill="url(#sph2)" opacity="0.9"/><circle cx="432.34" cy="227.8" r="3.51" fill="url(#sph2)" opacity="0.9"/><circle cx="436.78" cy="227.78" r="2.9" fill="url(#sph2)" opacity="0.9"/><circle cx="441.94" cy="227.36" r="3.53" fill="url(#sph2)" opacity="0.9"/><circle cx="448.49" cy="227.41" r="2.96" fill="url(#sph2)" opacity="0.9"/><circle cx="452.83" cy="227.79" r="3" fill="url(#sph2)" opacity="0.9"/><circle cx="458.28" cy="227.77" r="3.16" fill="url(#sph2)" opacity="0.9"/><circle cx="380.81" cy="228.3" r="3.15" fill="url(#sph2)" opacity="0.9"/><circle cx="386.18" cy="228.57" r="2.68" fill="url(#sph2)" opacity="0.9"/><circle cx="391.47" cy="230.11" r="2.68" fill="url(#sph2)" opacity="0.9"/><circle cx="396.67" cy="229.13" r="3.35" fill="url(#sph2)" opacity="0.9"/><circle cx="402.1" cy="229.54" r="2.82" fill="url(#sph2)" opacity="0.9"/><circle cx="407.73" cy="230.23" r="3.36" fill="url(#sph2)" opacity="0.9"/><circle cx="412.39" cy="230.15" r="3.57" fill="url(#sph2)" opacity="0.9"/><circle cx="418.34" cy="230.66" r="3.14" fill="url(#sph2)" opacity="0.9"/><circle cx="423.84" cy="231.25" r="3.51" fill="url(#sph2)" opacity="0.9"/><circle cx="428.62" cy="231.65" r="3.27" fill="url(#sph2)" opacity="0.9"/><circle cx="434.91" cy="231.9" r="3.43" fill="url(#sph2)" opacity="0.9"/><circle cx="440.38" cy="232.39" r="3.24" fill="url(#sph2)" opacity="0.9"/><circle cx="445.05" cy="232.2" r="3.4" fill="url(#sph2)" opacity="0.9"/><circle cx="450.24" cy="231.97" r="2.75" fill="url(#sph2)" opacity="0.9"/><circle cx="456.28" cy="233.15" r="2.98" fill="url(#sph2)" opacity="0.9"/><circle cx="409.46" cy="233.95" r="3.36" fill="url(#sph2)" opacity="0.9"/><circle cx="414.92" cy="234.8" r="3.42" fill="url(#sph2)" opacity="0.9"/><circle cx="420.66" cy="234.59" r="3.49" fill="url(#sph2)" opacity="0.9"/><circle cx="426.93" cy="235" r="3.15" fill="url(#sph2)" opacity="0.9"/><circle cx="432.41" cy="235.47" r="2.82" fill="url(#sph2)" opacity="0.9"/><circle cx="436" cy="236.37" r="3.4" fill="url(#sph2)" opacity="0.9"/><circle cx="442.07" cy="235.97" r="3.12" fill="url(#sph2)" opacity="0.9"/><circle cx="447.25" cy="236.95" r="3.26" fill="url(#sph2)" opacity="0.9"/><circle cx="452.58" cy="235.62" r="3.07" fill="url(#sph2)" opacity="0.9"/></g>
<g><ellipse cx="374.88" cy="219.4" rx="1.22" ry="0.95" fill="#d2802e" opacity="0.85"/><ellipse cx="451.52" cy="218.21" rx="1.83" ry="0.93" fill="#b8783a" opacity="0.85"/><ellipse cx="457.19" cy="214.34" rx="1.87" ry="1.6" fill="#c77a34" opacity="0.85"/><ellipse cx="443.72" cy="219.26" rx="1.75" ry="0.81" fill="#c77a34" opacity="0.85"/><ellipse cx="396.52" cy="216.28" rx="2.34" ry="1.4" fill="#d2802e" opacity="0.85"/><ellipse cx="385.13" cy="216.3" rx="2.33" ry="1.25" fill="#d2802e" opacity="0.85"/><ellipse cx="443.33" cy="210.4" rx="1.91" ry="0.87" fill="#3c8c3a" opacity="0.85"/><ellipse cx="377.9" cy="217.21" rx="2.31" ry="0.91" fill="#b8783a" opacity="0.85"/><ellipse cx="423.35" cy="212.82" rx="1.98" ry="0.89" fill="#d2802e" opacity="0.85"/><ellipse cx="403.49" cy="220.01" rx="2.38" ry="1.21" fill="#3c8c3a" opacity="0.85"/><ellipse cx="434.24" cy="210.94" rx="1.77" ry="1.13" fill="#3c8c3a" opacity="0.85"/><ellipse cx="464.46" cy="215.04" rx="1.55" ry="1.52" fill="#d2802e" opacity="0.85"/><ellipse cx="457.04" cy="210.57" rx="1.75" ry="1.12" fill="#c77a34" opacity="0.85"/><ellipse cx="381.76" cy="217.36" rx="1.34" ry="1.12" fill="#b8783a" opacity="0.85"/><ellipse cx="409.16" cy="219.93" rx="1.69" ry="1.3" fill="#4a9a4a" opacity="0.85"/><ellipse cx="414.06" cy="220.08" rx="1.77" ry="0.88" fill="#d2802e" opacity="0.85"/><ellipse cx="436.74" cy="217.65" rx="1.32" ry="1.43" fill="#c77a34" opacity="0.85"/><ellipse cx="391.32" cy="213.98" rx="1.73" ry="1.16" fill="#c77a34" opacity="0.85"/><ellipse cx="441.54" cy="211.92" rx="2.28" ry="1.05" fill="#3c8c3a" opacity="0.85"/><ellipse cx="403.67" cy="219.17" rx="1.84" ry="0.99" fill="#3c8c3a" opacity="0.85"/><ellipse cx="471.67" cy="213.22" rx="1.6" ry="1.57" fill="#e0923c" opacity="0.85"/><ellipse cx="451.24" cy="217.46" rx="1.34" ry="1.35" fill="#d2802e" opacity="0.85"/><ellipse cx="420.16" cy="213.86" rx="1.91" ry="0.98" fill="#c77a34" opacity="0.85"/><ellipse cx="431.17" cy="213.54" rx="1.4" ry="1.59" fill="#c77a34" opacity="0.85"/><ellipse cx="399.93" cy="219.5" rx="1.81" ry="1.48" fill="#d2802e" opacity="0.85"/><ellipse cx="390.43" cy="219.67" rx="1.51" ry="0.96" fill="#3c8c3a" opacity="0.85"/><ellipse cx="421.18" cy="216.37" rx="2.03" ry="1.46" fill="#3c8c3a" opacity="0.85"/><ellipse cx="409.99" cy="215.93" rx="1.35" ry="1.4" fill="#d2802e" opacity="0.85"/><ellipse cx="432.59" cy="213.87" rx="1.7" ry="0.87" fill="#3c8c3a" opacity="0.85"/><ellipse cx="467.39" cy="211.55" rx="2.08" ry="1.25" fill="#d2802e" opacity="0.85"/><ellipse cx="468.77" cy="211.4" rx="1.46" ry="1.08" fill="#d2802e" opacity="0.85"/><ellipse cx="388.02" cy="219.03" rx="1.79" ry="1.3" fill="#3c8c3a" opacity="0.85"/><ellipse cx="384.34" cy="219.61" rx="1.29" ry="1.35" fill="#b8783a" opacity="0.85"/><ellipse cx="404.64" cy="213.24" rx="2.09" ry="1.21" fill="#e0923c" opacity="0.85"/><ellipse cx="387.35" cy="217.32" rx="1.82" ry="1.24" fill="#e0923c" opacity="0.85"/><ellipse cx="399.15" cy="218.55" rx="2.2" ry="1.23" fill="#3c8c3a" opacity="0.85"/><ellipse cx="421.88" cy="215.67" rx="1.61" ry="0.97" fill="#4a9a4a" opacity="0.85"/><ellipse cx="374.07" cy="217.83" rx="1.79" ry="1.54" fill="#d2802e" opacity="0.85"/><ellipse cx="367.96" cy="214.71" rx="1.51" ry="1.33" fill="#d2802e" opacity="0.85"/><ellipse cx="410.03" cy="217.47" rx="2.26" ry="1.11" fill="#3c8c3a" opacity="0.85"/><ellipse cx="379.22" cy="220.21" rx="1.77" ry="0.82" fill="#4a9a4a" opacity="0.85"/><ellipse cx="431.81" cy="213.09" rx="1.48" ry="0.8" fill="#3c8c3a" opacity="0.85"/><ellipse cx="424.91" cy="216.82" rx="2.22" ry="1.41" fill="#3c8c3a" opacity="0.85"/><ellipse cx="453.22" cy="212.92" rx="1.58" ry="1.37" fill="#d2802e" opacity="0.85"/><ellipse cx="423.81" cy="212.11" rx="2.05" ry="1.53" fill="#4a9a4a" opacity="0.85"/><ellipse cx="410.22" cy="219.46" rx="1.81" ry="1.44" fill="#b8783a" opacity="0.85"/><ellipse cx="424.77" cy="219.49" rx="1.73" ry="1.5" fill="#d2802e" opacity="0.85"/><ellipse cx="462.62" cy="217.98" rx="1.52" ry="1.26" fill="#d2802e" opacity="0.85"/><ellipse cx="394.66" cy="217" rx="1.78" ry="1.09" fill="#c77a34" opacity="0.85"/><ellipse cx="445.2" cy="210.28" rx="1.85" ry="1.34" fill="#e0923c" opacity="0.85"/><ellipse cx="419.44" cy="214.24" rx="2.32" ry="1.19" fill="#c77a34" opacity="0.85"/><ellipse cx="434.21" cy="218.49" rx="2.29" ry="1.06" fill="#c77a34" opacity="0.85"/><ellipse cx="380.01" cy="215.51" rx="1.68" ry="0.84" fill="#d2802e" opacity="0.85"/><ellipse cx="428.82" cy="214.65" rx="1.8" ry="1.42" fill="#3c8c3a" opacity="0.85"/><ellipse cx="433.04" cy="215.34" rx="1.81" ry="1.25" fill="#b8783a" opacity="0.85"/><ellipse cx="410.97" cy="216.54" rx="1.82" ry="0.83" fill="#d2802e" opacity="0.85"/><ellipse cx="460.94" cy="210.88" rx="1.29" ry="1.24" fill="#3c8c3a" opacity="0.85"/><ellipse cx="441.82" cy="210.42" rx="1.25" ry="1.02" fill="#3c8c3a" opacity="0.85"/><ellipse cx="450.22" cy="211.01" rx="1.71" ry="1.46" fill="#d2802e" opacity="0.85"/><ellipse cx="409.81" cy="218.7" rx="1.62" ry="1.36" fill="#c77a34" opacity="0.85"/><ellipse cx="431.34" cy="218.45" rx="1.6" ry="1.27" fill="#b8783a" opacity="0.85"/><ellipse cx="461.02" cy="216.64" rx="2.18" ry="1.48" fill="#c77a34" opacity="0.85"/><ellipse cx="373.9" cy="215.91" rx="2.39" ry="1.45" fill="#4a9a4a" opacity="0.85"/><ellipse cx="383.09" cy="220.17" rx="2.36" ry="1.58" fill="#d2802e" opacity="0.85"/><ellipse cx="371.45" cy="218.87" rx="1.82" ry="1.27" fill="#3c8c3a" opacity="0.85"/><ellipse cx="421.09" cy="214.25" rx="1.5" ry="1.13" fill="#3c8c3a" opacity="0.85"/><ellipse cx="381.53" cy="220.93" rx="1.79" ry="1.53" fill="#c77a34" opacity="0.85"/><ellipse cx="450.87" cy="216.69" rx="1.51" ry="0.89" fill="#3c8c3a" opacity="0.85"/><ellipse cx="466.91" cy="214.86" rx="1.88" ry="1.2" fill="#e0923c" opacity="0.85"/><ellipse cx="465.23" cy="216.83" rx="1.46" ry="0.87" fill="#d2802e" opacity="0.85"/><ellipse cx="382.28" cy="216.47" rx="2.01" ry="1.37" fill="#3c8c3a" opacity="0.85"/><ellipse cx="436.49" cy="216.2" rx="1.3" ry="1.59" fill="#c77a34" opacity="0.85"/><ellipse cx="457.13" cy="214.85" rx="2.15" ry="1.31" fill="#e0923c" opacity="0.85"/><ellipse cx="406.32" cy="218.43" rx="1.73" ry="1.52" fill="#c77a34" opacity="0.85"/><ellipse cx="421.29" cy="219.45" rx="2.13" ry="1.06" fill="#e0923c" opacity="0.85"/><ellipse cx="403.3" cy="217.32" rx="2.16" ry="1" fill="#c77a34" opacity="0.85"/><ellipse cx="418.9" cy="219.69" rx="2.17" ry="0.88" fill="#4a9a4a" opacity="0.85"/><ellipse cx="451.82" cy="211.55" rx="1.34" ry="1.41" fill="#4a9a4a" opacity="0.85"/><ellipse cx="445.41" cy="212.94" rx="1.41" ry="1.51" fill="#d2802e" opacity="0.85"/><ellipse cx="435.51" cy="214.19" rx="1.98" ry="1.23" fill="#4a9a4a" opacity="0.85"/><ellipse cx="385.87" cy="216.02" rx="1.27" ry="1.33" fill="#e0923c" opacity="0.85"/><ellipse cx="372.65" cy="220.81" rx="1.94" ry="1.54" fill="#4a9a4a" opacity="0.85"/><ellipse cx="392.68" cy="211.58" rx="2.37" ry="1.56" fill="#e0923c" opacity="0.85"/><ellipse cx="457.34" cy="217.23" rx="1.67" ry="1.52" fill="#4a9a4a" opacity="0.85"/><ellipse cx="468.27" cy="217.43" rx="1.5" ry="1.18" fill="#3c8c3a" opacity="0.85"/><ellipse cx="451.77" cy="214.99" rx="1.91" ry="1.26" fill="#d2802e" opacity="0.85"/><ellipse cx="419.2" cy="211.78" rx="2.32" ry="0.91" fill="#e0923c" opacity="0.85"/><ellipse cx="414.82" cy="216.17" rx="1.38" ry="1.5" fill="#d2802e" opacity="0.85"/><ellipse cx="424.86" cy="213.45" rx="2.08" ry="0.97" fill="#b8783a" opacity="0.85"/><ellipse cx="437.11" cy="218.95" rx="1.4" ry="1.58" fill="#d2802e" opacity="0.85"/><ellipse cx="438.23" cy="217.03" rx="1.27" ry="1.06" fill="#3c8c3a" opacity="0.85"/><ellipse cx="429.32" cy="216.96" rx="2.28" ry="1.2" fill="#3c8c3a" opacity="0.85"/><ellipse cx="420.34" cy="215.27" rx="2.03" ry="1.16" fill="#3c8c3a" opacity="0.85"/><ellipse cx="381.89" cy="212.79" rx="1.57" ry="0.95" fill="#b8783a" opacity="0.85"/><ellipse cx="419.1" cy="216.53" rx="2.26" ry="1.2" fill="#d2802e" opacity="0.85"/><ellipse cx="381.17" cy="217.94" rx="1.23" ry="1.01" fill="#e0923c" opacity="0.85"/><ellipse cx="429.04" cy="214.09" rx="1.6" ry="1.02" fill="#d2802e" opacity="0.85"/><ellipse cx="422.53" cy="219.64" rx="1.77" ry="1.4" fill="#d2802e" opacity="0.85"/><ellipse cx="429.05" cy="212.24" rx="1.61" ry="1.57" fill="#c77a34" opacity="0.85"/><ellipse cx="372.86" cy="217.88" rx="2.11" ry="1.24" fill="#b8783a" opacity="0.85"/><ellipse cx="465.09" cy="212.54" rx="1.83" ry="0.95" fill="#d2802e" opacity="0.85"/><ellipse cx="415.14" cy="217.97" rx="1.43" ry="1" fill="#3c8c3a" opacity="0.85"/><ellipse cx="461.41" cy="210.75" rx="2.05" ry="1.16" fill="#c77a34" opacity="0.85"/><ellipse cx="404.97" cy="218.11" rx="1.45" ry="0.82" fill="#4a9a4a" opacity="0.85"/><ellipse cx="372.39" cy="211.8" rx="1.72" ry="1.32" fill="#3c8c3a" opacity="0.85"/><ellipse cx="423.17" cy="219.86" rx="2" ry="1.03" fill="#3c8c3a" opacity="0.85"/><ellipse cx="454.28" cy="217.6" rx="1.75" ry="1.22" fill="#d2802e" opacity="0.85"/><ellipse cx="406.58" cy="213.21" rx="1.85" ry="1.12" fill="#d2802e" opacity="0.85"/><ellipse cx="432.47" cy="211.2" rx="1.96" ry="0.82" fill="#c77a34" opacity="0.85"/><ellipse cx="438.54" cy="213.74" rx="2.04" ry="1.07" fill="#4a9a4a" opacity="0.85"/><ellipse cx="462.38" cy="211.55" rx="1.23" ry="1.53" fill="#4a9a4a" opacity="0.85"/><ellipse cx="452.28" cy="213.44" rx="1.47" ry="0.98" fill="#4a9a4a" opacity="0.85"/><ellipse cx="461.7" cy="211.79" rx="1.79" ry="1.34" fill="#3c8c3a" opacity="0.85"/><ellipse cx="451.3" cy="211.63" rx="1.63" ry="1" fill="#3c8c3a" opacity="0.85"/><ellipse cx="396.72" cy="212.83" rx="1.7" ry="0.94" fill="#d2802e" opacity="0.85"/><ellipse cx="404.57" cy="212.97" rx="1.54" ry="1.04" fill="#3c8c3a" opacity="0.85"/><ellipse cx="368.4" cy="218.69" rx="2.24" ry="1.47" fill="#4a9a4a" opacity="0.85"/><ellipse cx="447.39" cy="218.64" rx="2.26" ry="1.59" fill="#3c8c3a" opacity="0.85"/><ellipse cx="439.51" cy="211.5" rx="2.39" ry="1.54" fill="#4a9a4a" opacity="0.85"/><ellipse cx="431.65" cy="212.28" rx="2.35" ry="1.25" fill="#e0923c" opacity="0.85"/><ellipse cx="384.88" cy="212.12" rx="2.38" ry="1.34" fill="#c77a34" opacity="0.85"/><ellipse cx="419.11" cy="216.52" rx="1.34" ry="1.09" fill="#d2802e" opacity="0.85"/><ellipse cx="434.19" cy="218.45" rx="1.29" ry="1.49" fill="#d2802e" opacity="0.85"/><ellipse cx="462.22" cy="216.43" rx="1.37" ry="1.07" fill="#d2802e" opacity="0.85"/><ellipse cx="430.37" cy="211.9" rx="1.33" ry="0.96" fill="#3c8c3a" opacity="0.85"/><ellipse cx="407.46" cy="219.23" rx="1.43" ry="1.07" fill="#d2802e" opacity="0.85"/><ellipse cx="429.81" cy="216.77" rx="1.39" ry="1.44" fill="#e0923c" opacity="0.85"/><ellipse cx="393.55" cy="213.91" rx="2.04" ry="1.54" fill="#c77a34" opacity="0.85"/><ellipse cx="444.19" cy="211.97" rx="2.23" ry="1.55" fill="#3c8c3a" opacity="0.85"/><ellipse cx="411.15" cy="214.53" rx="2.07" ry="1.43" fill="#4a9a4a" opacity="0.85"/><ellipse cx="392.69" cy="212.67" rx="2.33" ry="0.85" fill="#4a9a4a" opacity="0.85"/><ellipse cx="436.59" cy="219.28" rx="2.22" ry="0.93" fill="#e0923c" opacity="0.85"/><ellipse cx="424.43" cy="214.8" rx="1.96" ry="1.17" fill="#d2802e" opacity="0.85"/><ellipse cx="396.49" cy="218.67" rx="1.67" ry="1.54" fill="#d2802e" opacity="0.85"/><ellipse cx="418.2" cy="216.94" rx="1.3" ry="0.89" fill="#4a9a4a" opacity="0.85"/></g>
<circle cx="442" cy="243" r="4.4" fill="url(#sph)"/>
<circle cx="426" cy="241" r="3.8" fill="url(#sph)"/>
<circle cx="433" cy="243.5" r="3.6" fill="url(#sph)"/>
<circle cx="452" cy="236.5" r="3.6" fill="url(#sph)"/>
<circle cx="406" cy="233.5" r="3.4" fill="url(#sph)"/>
<circle cx="394" cy="231" r="3.4" fill="url(#sph)"/>
<circle cx="382" cy="229.5" r="3.4" fill="url(#sph)"/>
<circle cx="369" cy="218" r="3.6" fill="url(#sph)"/>
<circle cx="366" cy="208" r="3.6" fill="url(#sph)"/>
<circle cx="375" cy="192" r="3.4" fill="url(#sph)"/>
<circle cx="470" cy="191" r="3.4" fill="url(#sph)"/>
<circle cx="476" cy="201" r="3.2" fill="url(#sph)"/>
<g class="r" font-weight="bold" fill="#fff" font-size="9"><text x="403.3" y="191" textLength="13" lengthAdjust="spacingAndGlyphs">Air</text><text x="421.8" y="191" textLength="13" lengthAdjust="spacingAndGlyphs">Air</text><text x="441.3" y="191" textLength="13" lengthAdjust="spacingAndGlyphs">Air</text></g>
<g stroke="#fff" stroke-width="1"><line x1="409" y1="193" x2="403" y2="200"/><line x1="428" y1="193" x2="422" y2="200"/><line x1="447" y1="193" x2="441" y2="200"/></g>
<text x="373" y="210.5" class="r" font-size="11" font-weight="bold" fill="#fff" textLength="99" lengthAdjust="spacingAndGlyphs">Zn-Co<tspan font-size="6.5" dy="2.5">3</tspan><tspan dy="-2.5">O</tspan><tspan font-size="6.5" dy="2.5" font-weight="normal">4-x</tspan><tspan dy="-2.5">/Zn-air</tspan></text>
<text x="384.5" y="225" class="r" font-size="11" font-weight="bold" fill="#fff" text-anchor="start" textLength="73" lengthAdjust="spacingAndGlyphs" >hybrid battery</text>
<polyline points="322.8,223.3 335.2,223.3 335.6,235.3 361,236.3 361,228.6 361,217.2 361,201" fill="none" stroke="#2828ee" stroke-width="2"/>
<circle cx="322.8" cy="223.3" r="2.4" fill="#2828ee"/><circle cx="322.8" cy="223.3" r="0.7" fill="#c8c8ff"/>
<circle cx="335.2" cy="223.3" r="2.4" fill="#2828ee"/><circle cx="335.2" cy="223.3" r="0.7" fill="#c8c8ff"/>
<circle cx="335.6" cy="235.3" r="2.4" fill="#2828ee"/><circle cx="335.6" cy="235.3" r="0.7" fill="#c8c8ff"/>
<circle cx="361" cy="236.3" r="2.4" fill="#2828ee"/><circle cx="361" cy="236.3" r="0.7" fill="#c8c8ff"/>
<circle cx="361" cy="228.6" r="2.4" fill="#2828ee"/><circle cx="361" cy="228.6" r="0.7" fill="#c8c8ff"/>
<circle cx="361" cy="217.2" r="2.4" fill="#2828ee"/><circle cx="361" cy="217.2" r="0.7" fill="#c8c8ff"/>
<circle cx="361" cy="201" r="2.4" fill="#2828ee"/><circle cx="361" cy="201" r="0.7" fill="#c8c8ff"/>
<polyline points="361,201 361,197.6 364,190.7 367,183.7 371.9,178.2 384.8,173.8 404.6,166.8 418.5,161.5" fill="none" stroke="#2828ee" stroke-width="3.8" stroke-linejoin="round"/>
<polyline points="418.5,161.5 433.4,160.8" fill="none" stroke="#2828ee" stroke-width="2.6"/>
<polyline points="433.4,160.8 437.6,166 446,172.3 456.4,176.4 467,180.6 472,187 476.4,197.4 478.4,210.6" fill="none" stroke="#2828ee" stroke-width="3.8" stroke-linejoin="round"/>
<circle cx="361" cy="201" r="0.75" fill="#dcdcff"/>
<circle cx="361" cy="198.6" r="0.75" fill="#dcdcff"/>
<circle cx="361.56" cy="196.32" r="0.75" fill="#dcdcff"/>
<circle cx="362.52" cy="194.12" r="0.75" fill="#dcdcff"/>
<circle cx="363.47" cy="191.91" r="0.75" fill="#dcdcff"/>
<circle cx="364.42" cy="189.71" r="0.75" fill="#dcdcff"/>
<circle cx="365.37" cy="187.51" r="0.75" fill="#dcdcff"/>
<circle cx="366.31" cy="185.3" r="0.75" fill="#dcdcff"/>
<circle cx="367.44" cy="183.21" r="0.75" fill="#dcdcff"/>
<circle cx="369.04" cy="181.42" r="0.75" fill="#dcdcff"/>
<circle cx="370.63" cy="179.62" r="0.75" fill="#dcdcff"/>
<circle cx="372.37" cy="178.04" r="0.75" fill="#dcdcff"/>
<circle cx="374.64" cy="177.27" r="0.75" fill="#dcdcff"/>
<circle cx="376.91" cy="176.49" r="0.75" fill="#dcdcff"/>
<circle cx="379.18" cy="175.72" r="0.75" fill="#dcdcff"/>
<circle cx="381.45" cy="174.94" r="0.75" fill="#dcdcff"/>
<circle cx="383.73" cy="174.17" r="0.75" fill="#dcdcff"/>
<circle cx="385.99" cy="173.38" r="0.75" fill="#dcdcff"/>
<circle cx="388.25" cy="172.58" r="0.75" fill="#dcdcff"/>
<circle cx="390.52" cy="171.78" r="0.75" fill="#dcdcff"/>
<circle cx="392.78" cy="170.98" r="0.75" fill="#dcdcff"/>
<circle cx="395.04" cy="170.18" r="0.75" fill="#dcdcff"/>
<circle cx="397.31" cy="169.38" r="0.75" fill="#dcdcff"/>
<circle cx="399.57" cy="168.58" r="0.75" fill="#dcdcff"/>
<circle cx="401.83" cy="167.78" r="0.75" fill="#dcdcff"/>
<circle cx="404.09" cy="166.98" r="0.75" fill="#dcdcff"/>
<circle cx="406.34" cy="166.14" r="0.75" fill="#dcdcff"/>
<circle cx="408.58" cy="165.28" r="0.75" fill="#dcdcff"/>
<circle cx="410.83" cy="164.43" r="0.75" fill="#dcdcff"/>
<circle cx="413.07" cy="163.57" r="0.75" fill="#dcdcff"/>
<circle cx="415.31" cy="162.72" r="0.75" fill="#dcdcff"/>
<circle cx="417.55" cy="161.86" r="0.75" fill="#dcdcff"/>
<circle cx="433.4" cy="160.8" r="0.75" fill="#dcdcff"/>
<circle cx="434.91" cy="162.67" r="0.75" fill="#dcdcff"/>
<circle cx="436.42" cy="164.53" r="0.75" fill="#dcdcff"/>
<circle cx="438.01" cy="166.31" r="0.75" fill="#dcdcff"/>
<circle cx="439.93" cy="167.75" r="0.75" fill="#dcdcff"/>
<circle cx="441.85" cy="169.19" r="0.75" fill="#dcdcff"/>
<circle cx="443.77" cy="170.63" r="0.75" fill="#dcdcff"/>
<circle cx="445.69" cy="172.07" r="0.75" fill="#dcdcff"/>
<circle cx="447.88" cy="173.04" r="0.75" fill="#dcdcff"/>
<circle cx="450.11" cy="173.92" r="0.75" fill="#dcdcff"/>
<circle cx="452.34" cy="174.8" r="0.75" fill="#dcdcff"/>
<circle cx="454.57" cy="175.68" r="0.75" fill="#dcdcff"/>
<circle cx="456.81" cy="176.56" r="0.75" fill="#dcdcff"/>
<circle cx="459.04" cy="177.44" r="0.75" fill="#dcdcff"/>
<circle cx="461.27" cy="178.33" r="0.75" fill="#dcdcff"/>
<circle cx="463.5" cy="179.21" r="0.75" fill="#dcdcff"/>
<circle cx="465.73" cy="180.1" r="0.75" fill="#dcdcff"/>
<circle cx="467.64" cy="181.42" r="0.75" fill="#dcdcff"/>
<circle cx="469.11" cy="183.31" r="0.75" fill="#dcdcff"/>
<circle cx="470.59" cy="185.2" r="0.75" fill="#dcdcff"/>
<circle cx="472.04" cy="187.1" r="0.75" fill="#dcdcff"/>
<circle cx="472.98" cy="189.31" r="0.75" fill="#dcdcff"/>
<circle cx="473.91" cy="191.53" r="0.75" fill="#dcdcff"/>
<circle cx="474.85" cy="193.74" r="0.75" fill="#dcdcff"/>
<circle cx="475.78" cy="195.95" r="0.75" fill="#dcdcff"/>
<circle cx="476.52" cy="198.21" r="0.75" fill="#dcdcff"/>
<circle cx="476.88" cy="200.58" r="0.75" fill="#dcdcff"/>
<circle cx="477.24" cy="202.96" r="0.75" fill="#dcdcff"/>
<circle cx="477.6" cy="205.33" r="0.75" fill="#dcdcff"/>
<circle cx="477.96" cy="207.7" r="0.75" fill="#dcdcff"/>
<circle cx="478.32" cy="210.08" r="0.75" fill="#dcdcff"/>
<polyline points="478.4,210.6 478.4,225.2 478.4,234.5 503.9,234.5" fill="none" stroke="#2828ee" stroke-width="2"/>
<circle cx="478.4" cy="210.6" r="2.4" fill="#2828ee"/><circle cx="478.4" cy="210.6" r="0.7" fill="#c8c8ff"/>
<circle cx="478.4" cy="225.2" r="2.4" fill="#2828ee"/><circle cx="478.4" cy="225.2" r="0.7" fill="#c8c8ff"/>
<circle cx="478.4" cy="234.5" r="2.4" fill="#2828ee"/><circle cx="478.4" cy="234.5" r="0.7" fill="#c8c8ff"/>
<circle cx="503.9" cy="234.5" r="2.4" fill="#2828ee"/><circle cx="503.9" cy="234.5" r="0.7" fill="#c8c8ff"/>
<line x1="361.5" y1="237.7" x2="384.5" y2="237.7" stroke="#2828ee" stroke-width="2"/>
<circle cx="374.6" cy="237.7" r="2.4" fill="#2828ee"/><circle cx="374.6" cy="237.7" r="0.7" fill="#c8c8ff"/>
<text x="387.3" y="240.3" class="r" font-size="8.6" font-weight="normal" fill="#1a1a1a" text-anchor="start" textLength="72" lengthAdjust="spacingAndGlyphs" stroke="#1a1a1a" stroke-width="0.15">With oxygen- 2mA</text>
<text x="338" y="218" class="r" font-size="8.5" font-weight="bold" fill="#a33ae6" text-anchor="start" textLength="19" lengthAdjust="spacingAndGlyphs" stroke="#a33ae6" stroke-width="0.3">ORR</text>
<text x="481" y="218.8" class="r" font-size="8.5" font-weight="bold" fill="#a33ae6" text-anchor="start" textLength="20.5" lengthAdjust="spacingAndGlyphs" stroke="#a33ae6" stroke-width="0.3">ORR</text>
<text x="413" y="174.6" class="r" font-size="8.5" font-weight="bold" fill="#f28a1e" text-anchor="start" textLength="19.7" lengthAdjust="spacingAndGlyphs" stroke="#f28a1e" stroke-width="0.3">OER</text>
<text x="321.4" y="194.5" class="r" font-size="8.2" font-weight="normal" fill="#222" text-anchor="start" textLength="14.2" lengthAdjust="spacingAndGlyphs" stroke="#222" stroke-width="0.15">Resi</text>
<line x1="378.9" y1="178.3" x2="367.2" y2="178.3" stroke="#111" stroke-width="1.2"/><path d="M362.2,178.3 L367.2,176.4 L367.2,180.2 Z" fill="#111"/>
<line x1="412" y1="178.3" x2="425" y2="178.3" stroke="#111" stroke-width="1.2"/><path d="M430,178.3 L425,176.4 L425,180.2 Z" fill="#111"/>
<line x1="443" y1="171.8" x2="439.6" y2="171.8" stroke="#111" stroke-width="1.2"/><path d="M434.6,171.8 L439.6,169.9 L439.6,173.7 Z" fill="#111"/>
<line x1="489" y1="172.3" x2="498.6" y2="172.3" stroke="#111" stroke-width="1.2"/><path d="M503.6,172.3 L498.6,170.4 L498.6,174.2 Z" fill="#111"/>
<text x="384.7" y="181.9" class="r" font-size="8.6" font-weight="normal" fill="#222" text-anchor="start" textLength="24.8" lengthAdjust="spacingAndGlyphs" stroke="#222" stroke-width="0.15">Charge</text>
<text x="451.2" y="174.4" class="r" font-size="8.6" font-weight="normal" fill="#222" text-anchor="start" textLength="37.8" lengthAdjust="spacingAndGlyphs" stroke="#222" stroke-width="0.15">Dsicharge</text>
<rect x="471.8" y="146.8" width="69.2" height="10" fill="#111"/>
<rect x="469.8" y="144.5" width="69.1" height="9.9" fill="#fff" stroke="#aaa" stroke-width="0.8"/>
<text x="471" y="152" class="r" font-size="9.2" font-weight="normal" fill="#111" text-anchor="start" textLength="66.7" lengthAdjust="spacingAndGlyphs" stroke="#111" stroke-width="0.12">Oxygen-exposure</text>
</svg>
</body></html>
